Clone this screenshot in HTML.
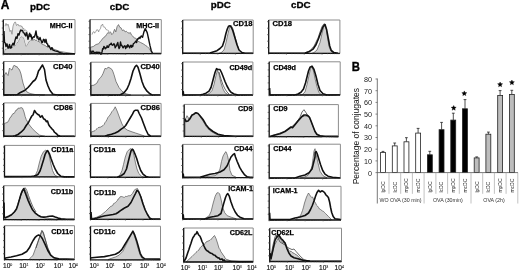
<!DOCTYPE html>
<html><head><meta charset="utf-8"><style>
html,body{margin:0;padding:0;background:#fff;width:520px;height:272px;overflow:hidden}
svg{display:block;will-change:transform}
text{font-family:"Liberation Sans",sans-serif;fill:#111}
.lb{font-size:7.2px;font-weight:bold;fill:#000;stroke:#000;stroke-width:0.25px}
.lr{font-size:7.3px;fill:#000;stroke:#000;stroke-width:0.3px}
.hd{font-size:9.8px;font-weight:bold;fill:#000;stroke:#000;stroke-width:0.3px}
.pa{font-size:12px;font-weight:bold;fill:#000;stroke:#000;stroke-width:0.35px}
.ax{font-size:6.6px;fill:#111;stroke:#111;stroke-width:0.15px}
.sup{font-size:3.6px;stroke-width:0.05px}
.yt{font-size:7.2px;fill:#222}
.cat{font-size:5px;fill:#222}
.grp{font-size:5.3px;fill:#333}
.yl{font-size:8.5px;fill:#111}
.star{font-size:9px;font-weight:bold}
</style></head><body>
<svg width="520" height="272" viewBox="0 0 520 272">
<text x="0.8" y="9.4" class="pa">A</text>
<text x="30" y="9.5" class="hd">pDC</text>
<text x="109.8" y="10" class="hd">cDC</text>
<text x="210.8" y="7.9" class="hd">pDC</text>
<text x="291" y="8.1" class="hd">cDC</text>
<text transform="translate(351.8,70.6) scale(0.9,1)" class="pa" style="font-size:12.6px">B</text>
<polygon points="4.0,54.0 4.0,53.8 5.0,49.0 8.0,48.5 11.0,47.5 11.8,47.7 12.6,47.4 13.4,46.6 14.2,45.9 15.0,46.0 16.0,43.5 17.0,42.5 18.0,41.7 19.5,38.5 21.0,36.5 22.5,36.8 24.0,38.0 25.0,42.0 26.2,46.2 27.5,44.0 28.5,41.7 29.6,41.2 30.7,40.2 31.9,40.1 33.0,40.0 34.5,39.5 35.3,40.3 36.2,40.0 37.0,40.6 38.0,41.6 39.0,41.4 40.0,42.3 41.0,43.5 42.0,43.8 43.0,44.7 44.0,44.8 45.0,45.5 46.0,46.1 47.0,46.8 48.0,47.0 48.8,46.8 49.6,47.7 50.4,48.4 51.2,47.8 52.0,48.5 56.0,50.0 60.0,51.5 65.0,52.3 70.0,53.0 74.0,53.6 74.0,54.0" fill="#d1d1d1" stroke="#555" stroke-width="0.7"/>
<polygon points="5.0,26.2 6.0,23.4 7.0,25.5 8.0,24.1 9.0,27.5 10.0,31.6 11.0,30.2 12.0,34.3 13.0,26.2 14.0,23.4 15.5,22.1 16.5,25.5 18.0,24.1 19.0,26.2 21.0,25.5 23.0,28.9 25.0,30.2 27.0,31.6 29.0,35.7 31.0,37.0 30.7,40.2 28.5,41.7 27.5,44.0 26.2,46.2 25.0,42.0 24.0,38.0 22.5,36.8 21.0,36.5 19.5,38.5 18.0,41.7 17.0,42.5 15.0,46.0 11.0,47.5 8.0,48.5 5.0,49.0 4.0,53.8" fill="#e6e6e6" stroke="none"/>
<polyline points="5.0,26.2 6.0,23.4 7.0,25.5 8.0,24.1 9.0,27.5 10.0,31.6 11.0,30.2 12.0,34.3 13.0,26.2 14.0,23.4 14.8,22.1 15.5,22.1 16.5,25.5 17.2,24.9 18.0,24.1 19.0,26.2 19.7,25.7 20.3,26.0 21.0,25.5 21.7,26.9 22.3,26.7 23.0,28.9 23.7,28.2 24.3,30.6 25.0,30.2 25.7,30.1 26.3,30.5 27.0,31.6 27.7,34.2 28.3,34.3 29.0,35.7 29.7,36.9 30.3,36.5 31.0,37.0" fill="none" stroke="#8a8a8a" stroke-width="0.8"/>
<polyline points="4.0,31.0 4.5,42.5 5.2,42.9 6.0,46.6 7.0,43.8 8.0,48.0 8.8,47.8 9.5,44.5 10.5,48.0 11.2,47.8 12.0,45.2 13.0,43.2 14.0,45.2 15.0,40.4 16.0,37.0 17.0,38.4 18.0,33.6 19.0,35.0 20.0,31.6 20.7,30.1 21.3,30.7 22.0,30.3 22.7,30.9 23.3,32.7 24.0,32.9 25.0,34.8 25.7,35.9 26.3,32.6 27.0,34.2 28.0,39.3 29.0,35.4 29.7,33.1 30.3,36.5 31.0,34.8 32.0,39.3 32.8,37.7 33.5,36.7 34.2,37.2 35.0,35.4 36.0,30.9 37.0,38.0 37.7,36.5 38.3,39.1 39.0,40.0 40.0,37.4 41.0,40.6 41.8,42.5 42.5,42.5 43.5,39.3 44.2,39.7 45.0,42.5 46.0,39.3 46.8,43.5 47.5,43.8 48.2,46.5 49.0,45.7 50.0,47.7 51.0,49.6 51.7,47.7 52.3,47.9 53.0,50.2 55.0,50.9 58.0,51.5 60.0,52.8 63.0,53.5 75.0,53.6" fill="none" stroke="#111" stroke-width="1.4" stroke-linejoin="round"/>
<path d="M3.3,19.6H75.0V54.0" fill="none" stroke="#8c8c8c" stroke-width="1"/>
<path d="M3.3,19.6V54.0H75.0" fill="none" stroke="#111" stroke-width="1.3"/>
<line x1="1.8" y1="21.3" x2="3.3" y2="21.3" stroke="#444" stroke-width="0.8"/>
<line x1="1.8" y1="28.0" x2="3.3" y2="28.0" stroke="#444" stroke-width="0.8"/>
<line x1="1.8" y1="34.7" x2="3.3" y2="34.7" stroke="#444" stroke-width="0.8"/>
<line x1="1.8" y1="41.4" x2="3.3" y2="41.4" stroke="#444" stroke-width="0.8"/>
<line x1="1.8" y1="48.2" x2="3.3" y2="48.2" stroke="#444" stroke-width="0.8"/>
<line x1="3.3" y1="54.0" x2="3.3" y2="55.4" stroke="#555" stroke-width="0.6"/>
<line x1="8.7" y1="54.0" x2="8.7" y2="54.8" stroke="#555" stroke-width="0.6"/>
<line x1="11.9" y1="54.0" x2="11.9" y2="54.8" stroke="#555" stroke-width="0.6"/>
<line x1="14.1" y1="54.0" x2="14.1" y2="54.8" stroke="#555" stroke-width="0.6"/>
<line x1="15.8" y1="54.0" x2="15.8" y2="54.8" stroke="#555" stroke-width="0.6"/>
<line x1="17.2" y1="54.0" x2="17.2" y2="54.8" stroke="#555" stroke-width="0.6"/>
<line x1="18.4" y1="54.0" x2="18.4" y2="54.8" stroke="#555" stroke-width="0.6"/>
<line x1="19.5" y1="54.0" x2="19.5" y2="54.8" stroke="#555" stroke-width="0.6"/>
<line x1="20.4" y1="54.0" x2="20.4" y2="54.8" stroke="#555" stroke-width="0.6"/>
<line x1="21.2" y1="54.0" x2="21.2" y2="55.4" stroke="#555" stroke-width="0.6"/>
<line x1="26.6" y1="54.0" x2="26.6" y2="54.8" stroke="#555" stroke-width="0.6"/>
<line x1="29.8" y1="54.0" x2="29.8" y2="54.8" stroke="#555" stroke-width="0.6"/>
<line x1="32.0" y1="54.0" x2="32.0" y2="54.8" stroke="#555" stroke-width="0.6"/>
<line x1="33.8" y1="54.0" x2="33.8" y2="54.8" stroke="#555" stroke-width="0.6"/>
<line x1="35.2" y1="54.0" x2="35.2" y2="54.8" stroke="#555" stroke-width="0.6"/>
<line x1="36.4" y1="54.0" x2="36.4" y2="54.8" stroke="#555" stroke-width="0.6"/>
<line x1="37.4" y1="54.0" x2="37.4" y2="54.8" stroke="#555" stroke-width="0.6"/>
<line x1="38.3" y1="54.0" x2="38.3" y2="54.8" stroke="#555" stroke-width="0.6"/>
<line x1="39.1" y1="54.0" x2="39.1" y2="55.4" stroke="#555" stroke-width="0.6"/>
<line x1="44.5" y1="54.0" x2="44.5" y2="54.8" stroke="#555" stroke-width="0.6"/>
<line x1="47.7" y1="54.0" x2="47.7" y2="54.8" stroke="#555" stroke-width="0.6"/>
<line x1="49.9" y1="54.0" x2="49.9" y2="54.8" stroke="#555" stroke-width="0.6"/>
<line x1="51.7" y1="54.0" x2="51.7" y2="54.8" stroke="#555" stroke-width="0.6"/>
<line x1="53.1" y1="54.0" x2="53.1" y2="54.8" stroke="#555" stroke-width="0.6"/>
<line x1="54.3" y1="54.0" x2="54.3" y2="54.8" stroke="#555" stroke-width="0.6"/>
<line x1="55.3" y1="54.0" x2="55.3" y2="54.8" stroke="#555" stroke-width="0.6"/>
<line x1="56.3" y1="54.0" x2="56.3" y2="54.8" stroke="#555" stroke-width="0.6"/>
<line x1="57.1" y1="54.0" x2="57.1" y2="55.4" stroke="#555" stroke-width="0.6"/>
<line x1="62.5" y1="54.0" x2="62.5" y2="54.8" stroke="#555" stroke-width="0.6"/>
<line x1="65.6" y1="54.0" x2="65.6" y2="54.8" stroke="#555" stroke-width="0.6"/>
<line x1="67.9" y1="54.0" x2="67.9" y2="54.8" stroke="#555" stroke-width="0.6"/>
<line x1="69.6" y1="54.0" x2="69.6" y2="54.8" stroke="#555" stroke-width="0.6"/>
<line x1="71.0" y1="54.0" x2="71.0" y2="54.8" stroke="#555" stroke-width="0.6"/>
<line x1="72.2" y1="54.0" x2="72.2" y2="54.8" stroke="#555" stroke-width="0.6"/>
<line x1="73.3" y1="54.0" x2="73.3" y2="54.8" stroke="#555" stroke-width="0.6"/>
<line x1="74.2" y1="54.0" x2="74.2" y2="54.8" stroke="#555" stroke-width="0.6"/>
<text x="72.5" y="27.6" text-anchor="end" class="lb">MHC-II</text>
<polygon points="90.6,53.6 90.6,53.5 90.6,47.2 93.3,46.5 96.0,44.5 98.6,43.8 100.6,41.2 101.6,40.1 102.6,38.5 103.6,38.0 104.6,36.6 105.5,36.2 106.5,34.6 107.9,32.6 109.2,33.2 110.5,31.9 111.8,34.6 113.2,33.2 114.5,29.3 115.8,31.9 117.1,26.6 118.5,24.6 119.8,27.3 121.1,27.9 122.4,30.6 123.8,29.9 125.1,31.9 126.4,31.3 127.7,32.6 129.1,33.2 130.4,32.6 131.5,35.1 132.6,35.9 133.5,37.0 134.4,38.1 135.3,37.9 138.0,41.2 140.6,42.5 143.2,43.8 145.2,45.2 147.2,46.5 149.2,48.5 151.2,51.8 152.5,53.4 152.5,53.6" fill="#d1d1d1" stroke="#555" stroke-width="0.7"/>
<polyline points="92.0,34.6 92.7,32.6 93.3,31.9 93.9,31.6 94.6,33.2 95.3,32.0 96.0,31.3 96.7,29.8 97.3,29.9 97.9,29.9 98.6,31.9 99.2,30.4 99.9,29.3 100.6,28.3 101.2,25.3 101.9,25.4 102.6,24.0 103.2,26.3 103.9,27.3 104.6,26.9 105.2,27.9 105.8,29.0 106.5,29.9 107.2,29.7 107.9,30.6 108.6,30.8 109.2,32.6" fill="none" stroke="#8a8a8a" stroke-width="0.8"/>
<polyline points="90.6,50.5 91.5,53.0 93.0,51.0 94.5,53.0 96.0,52.3 100.0,52.5 100.7,54.2 101.3,54.0 102.0,52.0 102.6,48.8 103.2,49.1 103.9,46.5 104.6,47.2 105.2,48.8 105.9,47.8 106.6,47.7 107.2,45.8 107.8,47.2 108.5,47.2 109.2,45.1 109.9,44.5 110.6,44.3 111.2,43.2 111.8,44.6 112.5,45.2 113.2,44.8 113.8,43.8 114.5,44.4 115.2,47.8 115.8,46.5 116.5,45.8 117.2,43.7 117.8,42.5 118.4,46.4 119.1,48.5 119.8,47.2 120.5,41.9 121.2,45.3 121.8,45.2 122.4,46.7 123.1,47.8 123.8,46.6 124.4,45.8 125.1,46.2 125.7,48.5 126.4,46.0 127.1,47.2 127.8,44.6 128.4,45.8 129.1,46.7 129.7,47.8 130.3,45.8 131.0,45.2 131.6,47.2 132.2,45.6 132.7,46.5 133.3,43.8 134.0,43.3 134.6,42.8 135.3,41.9 135.9,41.1 136.6,42.5 137.3,38.9 138.0,39.2 138.6,38.3 139.3,37.3 139.9,38.5 140.6,37.2 141.3,35.9 142.6,37.2 143.9,31.9 145.2,28.6 147.2,32.6 148.5,38.5 149.9,45.2 151.2,50.5 152.5,53.3 161.0,53.4" fill="none" stroke="#111" stroke-width="1.4" stroke-linejoin="round"/>
<path d="M90.0,19.6H161.3V53.6" fill="none" stroke="#8c8c8c" stroke-width="1"/>
<path d="M90.0,19.6V53.6H161.3" fill="none" stroke="#111" stroke-width="1.3"/>
<line x1="88.5" y1="21.3" x2="90.0" y2="21.3" stroke="#444" stroke-width="0.8"/>
<line x1="88.5" y1="27.9" x2="90.0" y2="27.9" stroke="#444" stroke-width="0.8"/>
<line x1="88.5" y1="34.6" x2="90.0" y2="34.6" stroke="#444" stroke-width="0.8"/>
<line x1="88.5" y1="41.2" x2="90.0" y2="41.2" stroke="#444" stroke-width="0.8"/>
<line x1="88.5" y1="47.8" x2="90.0" y2="47.8" stroke="#444" stroke-width="0.8"/>
<line x1="90.0" y1="53.6" x2="90.0" y2="55.0" stroke="#555" stroke-width="0.6"/>
<line x1="95.4" y1="53.6" x2="95.4" y2="54.4" stroke="#555" stroke-width="0.6"/>
<line x1="98.5" y1="53.6" x2="98.5" y2="54.4" stroke="#555" stroke-width="0.6"/>
<line x1="100.7" y1="53.6" x2="100.7" y2="54.4" stroke="#555" stroke-width="0.6"/>
<line x1="102.5" y1="53.6" x2="102.5" y2="54.4" stroke="#555" stroke-width="0.6"/>
<line x1="103.9" y1="53.6" x2="103.9" y2="54.4" stroke="#555" stroke-width="0.6"/>
<line x1="105.1" y1="53.6" x2="105.1" y2="54.4" stroke="#555" stroke-width="0.6"/>
<line x1="106.1" y1="53.6" x2="106.1" y2="54.4" stroke="#555" stroke-width="0.6"/>
<line x1="107.0" y1="53.6" x2="107.0" y2="54.4" stroke="#555" stroke-width="0.6"/>
<line x1="107.8" y1="53.6" x2="107.8" y2="55.0" stroke="#555" stroke-width="0.6"/>
<line x1="113.2" y1="53.6" x2="113.2" y2="54.4" stroke="#555" stroke-width="0.6"/>
<line x1="116.3" y1="53.6" x2="116.3" y2="54.4" stroke="#555" stroke-width="0.6"/>
<line x1="118.6" y1="53.6" x2="118.6" y2="54.4" stroke="#555" stroke-width="0.6"/>
<line x1="120.3" y1="53.6" x2="120.3" y2="54.4" stroke="#555" stroke-width="0.6"/>
<line x1="121.7" y1="53.6" x2="121.7" y2="54.4" stroke="#555" stroke-width="0.6"/>
<line x1="122.9" y1="53.6" x2="122.9" y2="54.4" stroke="#555" stroke-width="0.6"/>
<line x1="123.9" y1="53.6" x2="123.9" y2="54.4" stroke="#555" stroke-width="0.6"/>
<line x1="124.8" y1="53.6" x2="124.8" y2="54.4" stroke="#555" stroke-width="0.6"/>
<line x1="125.7" y1="53.6" x2="125.7" y2="55.0" stroke="#555" stroke-width="0.6"/>
<line x1="131.0" y1="53.6" x2="131.0" y2="54.4" stroke="#555" stroke-width="0.6"/>
<line x1="134.2" y1="53.6" x2="134.2" y2="54.4" stroke="#555" stroke-width="0.6"/>
<line x1="136.4" y1="53.6" x2="136.4" y2="54.4" stroke="#555" stroke-width="0.6"/>
<line x1="138.1" y1="53.6" x2="138.1" y2="54.4" stroke="#555" stroke-width="0.6"/>
<line x1="139.5" y1="53.6" x2="139.5" y2="54.4" stroke="#555" stroke-width="0.6"/>
<line x1="140.7" y1="53.6" x2="140.7" y2="54.4" stroke="#555" stroke-width="0.6"/>
<line x1="141.7" y1="53.6" x2="141.7" y2="54.4" stroke="#555" stroke-width="0.6"/>
<line x1="142.7" y1="53.6" x2="142.7" y2="54.4" stroke="#555" stroke-width="0.6"/>
<line x1="143.5" y1="53.6" x2="143.5" y2="55.0" stroke="#555" stroke-width="0.6"/>
<line x1="148.8" y1="53.6" x2="148.8" y2="54.4" stroke="#555" stroke-width="0.6"/>
<line x1="152.0" y1="53.6" x2="152.0" y2="54.4" stroke="#555" stroke-width="0.6"/>
<line x1="154.2" y1="53.6" x2="154.2" y2="54.4" stroke="#555" stroke-width="0.6"/>
<line x1="155.9" y1="53.6" x2="155.9" y2="54.4" stroke="#555" stroke-width="0.6"/>
<line x1="157.3" y1="53.6" x2="157.3" y2="54.4" stroke="#555" stroke-width="0.6"/>
<line x1="158.5" y1="53.6" x2="158.5" y2="54.4" stroke="#555" stroke-width="0.6"/>
<line x1="159.6" y1="53.6" x2="159.6" y2="54.4" stroke="#555" stroke-width="0.6"/>
<line x1="160.5" y1="53.6" x2="160.5" y2="54.4" stroke="#555" stroke-width="0.6"/>
<text x="159.1" y="27.5" text-anchor="end" class="lb">MHC-II</text>
<polygon points="4.0,95.0 4.0,95.0 4.0,75.5 5.0,74.6 6.0,72.5 7.0,74.3 8.0,75.5 9.5,68.0 10.8,69.4 12.0,70.0 13.5,66.0 14.5,65.0 16.0,67.0 17.0,66.5 18.0,68.4 19.0,69.0 20.0,71.1 21.0,74.0 22.0,78.7 23.0,83.0 25.0,89.0 27.0,92.0 30.0,93.5 35.0,94.5 45.0,95.0 45.0,95.0" fill="#d1d1d1" stroke="#555" stroke-width="0.7"/>
<polyline points="4.0,95.0 17.0,94.8 20.0,92.7 22.5,91.5 25.0,90.2 28.0,87.5 30.0,85.2 33.0,81.5 35.0,80.0 36.0,78.5 37.0,76.0 38.5,71.0 40.0,69.0 41.0,67.2 42.5,65.0 44.5,69.5 46.0,80.0 48.0,86.0 50.0,90.5 53.0,94.2 57.0,95.0 74.0,95.0" fill="none" stroke="#111" stroke-width="1.6" stroke-linejoin="round"/>
<path d="M3.7,61.5H75.3V95.0" fill="none" stroke="#8c8c8c" stroke-width="1"/>
<path d="M3.7,61.5V95.0H75.3" fill="none" stroke="#111" stroke-width="1.3"/>
<line x1="2.2" y1="63.2" x2="3.7" y2="63.2" stroke="#444" stroke-width="0.8"/>
<line x1="2.2" y1="69.7" x2="3.7" y2="69.7" stroke="#444" stroke-width="0.8"/>
<line x1="2.2" y1="76.2" x2="3.7" y2="76.2" stroke="#444" stroke-width="0.8"/>
<line x1="2.2" y1="82.8" x2="3.7" y2="82.8" stroke="#444" stroke-width="0.8"/>
<line x1="2.2" y1="89.3" x2="3.7" y2="89.3" stroke="#444" stroke-width="0.8"/>
<line x1="3.7" y1="95.0" x2="3.7" y2="96.4" stroke="#555" stroke-width="0.6"/>
<line x1="9.1" y1="95.0" x2="9.1" y2="95.8" stroke="#555" stroke-width="0.6"/>
<line x1="12.2" y1="95.0" x2="12.2" y2="95.8" stroke="#555" stroke-width="0.6"/>
<line x1="14.5" y1="95.0" x2="14.5" y2="95.8" stroke="#555" stroke-width="0.6"/>
<line x1="16.2" y1="95.0" x2="16.2" y2="95.8" stroke="#555" stroke-width="0.6"/>
<line x1="17.6" y1="95.0" x2="17.6" y2="95.8" stroke="#555" stroke-width="0.6"/>
<line x1="18.8" y1="95.0" x2="18.8" y2="95.8" stroke="#555" stroke-width="0.6"/>
<line x1="19.9" y1="95.0" x2="19.9" y2="95.8" stroke="#555" stroke-width="0.6"/>
<line x1="20.8" y1="95.0" x2="20.8" y2="95.8" stroke="#555" stroke-width="0.6"/>
<line x1="21.6" y1="95.0" x2="21.6" y2="96.4" stroke="#555" stroke-width="0.6"/>
<line x1="27.0" y1="95.0" x2="27.0" y2="95.8" stroke="#555" stroke-width="0.6"/>
<line x1="30.1" y1="95.0" x2="30.1" y2="95.8" stroke="#555" stroke-width="0.6"/>
<line x1="32.4" y1="95.0" x2="32.4" y2="95.8" stroke="#555" stroke-width="0.6"/>
<line x1="34.1" y1="95.0" x2="34.1" y2="95.8" stroke="#555" stroke-width="0.6"/>
<line x1="35.5" y1="95.0" x2="35.5" y2="95.8" stroke="#555" stroke-width="0.6"/>
<line x1="36.7" y1="95.0" x2="36.7" y2="95.8" stroke="#555" stroke-width="0.6"/>
<line x1="37.8" y1="95.0" x2="37.8" y2="95.8" stroke="#555" stroke-width="0.6"/>
<line x1="38.7" y1="95.0" x2="38.7" y2="95.8" stroke="#555" stroke-width="0.6"/>
<line x1="39.5" y1="95.0" x2="39.5" y2="96.4" stroke="#555" stroke-width="0.6"/>
<line x1="44.9" y1="95.0" x2="44.9" y2="95.8" stroke="#555" stroke-width="0.6"/>
<line x1="48.0" y1="95.0" x2="48.0" y2="95.8" stroke="#555" stroke-width="0.6"/>
<line x1="50.3" y1="95.0" x2="50.3" y2="95.8" stroke="#555" stroke-width="0.6"/>
<line x1="52.0" y1="95.0" x2="52.0" y2="95.8" stroke="#555" stroke-width="0.6"/>
<line x1="53.4" y1="95.0" x2="53.4" y2="95.8" stroke="#555" stroke-width="0.6"/>
<line x1="54.6" y1="95.0" x2="54.6" y2="95.8" stroke="#555" stroke-width="0.6"/>
<line x1="55.7" y1="95.0" x2="55.7" y2="95.8" stroke="#555" stroke-width="0.6"/>
<line x1="56.6" y1="95.0" x2="56.6" y2="95.8" stroke="#555" stroke-width="0.6"/>
<line x1="57.4" y1="95.0" x2="57.4" y2="96.4" stroke="#555" stroke-width="0.6"/>
<line x1="62.8" y1="95.0" x2="62.8" y2="95.8" stroke="#555" stroke-width="0.6"/>
<line x1="65.9" y1="95.0" x2="65.9" y2="95.8" stroke="#555" stroke-width="0.6"/>
<line x1="68.2" y1="95.0" x2="68.2" y2="95.8" stroke="#555" stroke-width="0.6"/>
<line x1="69.9" y1="95.0" x2="69.9" y2="95.8" stroke="#555" stroke-width="0.6"/>
<line x1="71.3" y1="95.0" x2="71.3" y2="95.8" stroke="#555" stroke-width="0.6"/>
<line x1="72.5" y1="95.0" x2="72.5" y2="95.8" stroke="#555" stroke-width="0.6"/>
<line x1="73.6" y1="95.0" x2="73.6" y2="95.8" stroke="#555" stroke-width="0.6"/>
<line x1="74.5" y1="95.0" x2="74.5" y2="95.8" stroke="#555" stroke-width="0.6"/>
<text x="72.5" y="68.5" text-anchor="end" class="lb" style="font-size:7.6px">CD40</text>
<polygon points="91.0,95.2 91.0,95.0 91.0,86.0 92.0,85.2 93.0,85.5 94.0,85.0 95.0,84.5 96.0,83.7 97.0,83.0 98.2,80.4 99.5,78.5 100.8,77.4 102.0,75.5 103.0,73.6 104.0,71.0 105.0,68.3 106.5,69.0 108.0,67.2 109.0,67.6 110.0,68.0 111.0,68.8 112.0,69.5 113.0,71.8 114.0,74.7 116.0,81.5 119.0,87.5 122.0,91.2 126.0,93.8 131.0,95.0 131.0,95.2" fill="#d1d1d1" stroke="#555" stroke-width="0.7"/>
<polyline points="91.0,95.0 120.0,95.0 124.0,92.7 127.0,89.0 129.0,84.5 131.0,78.5 133.0,71.0 135.0,66.8 136.5,65.3 138.0,67.2 140.0,74.0 142.0,81.5 144.0,86.7 147.0,91.2 150.0,93.8 152.0,95.0 160.5,95.0" fill="none" stroke="#111" stroke-width="1.6" stroke-linejoin="round"/>
<path d="M90.8,62.2H160.5V95.2" fill="none" stroke="#8c8c8c" stroke-width="1"/>
<path d="M90.8,62.2V95.2H160.5" fill="none" stroke="#111" stroke-width="1.3"/>
<line x1="89.3" y1="63.9" x2="90.8" y2="63.9" stroke="#444" stroke-width="0.8"/>
<line x1="89.3" y1="70.3" x2="90.8" y2="70.3" stroke="#444" stroke-width="0.8"/>
<line x1="89.3" y1="76.7" x2="90.8" y2="76.7" stroke="#444" stroke-width="0.8"/>
<line x1="89.3" y1="83.2" x2="90.8" y2="83.2" stroke="#444" stroke-width="0.8"/>
<line x1="89.3" y1="89.6" x2="90.8" y2="89.6" stroke="#444" stroke-width="0.8"/>
<line x1="90.8" y1="95.2" x2="90.8" y2="96.6" stroke="#555" stroke-width="0.6"/>
<line x1="96.0" y1="95.2" x2="96.0" y2="96.0" stroke="#555" stroke-width="0.6"/>
<line x1="99.1" y1="95.2" x2="99.1" y2="96.0" stroke="#555" stroke-width="0.6"/>
<line x1="101.3" y1="95.2" x2="101.3" y2="96.0" stroke="#555" stroke-width="0.6"/>
<line x1="103.0" y1="95.2" x2="103.0" y2="96.0" stroke="#555" stroke-width="0.6"/>
<line x1="104.4" y1="95.2" x2="104.4" y2="96.0" stroke="#555" stroke-width="0.6"/>
<line x1="105.5" y1="95.2" x2="105.5" y2="96.0" stroke="#555" stroke-width="0.6"/>
<line x1="106.5" y1="95.2" x2="106.5" y2="96.0" stroke="#555" stroke-width="0.6"/>
<line x1="107.4" y1="95.2" x2="107.4" y2="96.0" stroke="#555" stroke-width="0.6"/>
<line x1="108.2" y1="95.2" x2="108.2" y2="96.6" stroke="#555" stroke-width="0.6"/>
<line x1="113.5" y1="95.2" x2="113.5" y2="96.0" stroke="#555" stroke-width="0.6"/>
<line x1="116.5" y1="95.2" x2="116.5" y2="96.0" stroke="#555" stroke-width="0.6"/>
<line x1="118.7" y1="95.2" x2="118.7" y2="96.0" stroke="#555" stroke-width="0.6"/>
<line x1="120.4" y1="95.2" x2="120.4" y2="96.0" stroke="#555" stroke-width="0.6"/>
<line x1="121.8" y1="95.2" x2="121.8" y2="96.0" stroke="#555" stroke-width="0.6"/>
<line x1="123.0" y1="95.2" x2="123.0" y2="96.0" stroke="#555" stroke-width="0.6"/>
<line x1="124.0" y1="95.2" x2="124.0" y2="96.0" stroke="#555" stroke-width="0.6"/>
<line x1="124.9" y1="95.2" x2="124.9" y2="96.0" stroke="#555" stroke-width="0.6"/>
<line x1="125.7" y1="95.2" x2="125.7" y2="96.6" stroke="#555" stroke-width="0.6"/>
<line x1="130.9" y1="95.2" x2="130.9" y2="96.0" stroke="#555" stroke-width="0.6"/>
<line x1="134.0" y1="95.2" x2="134.0" y2="96.0" stroke="#555" stroke-width="0.6"/>
<line x1="136.1" y1="95.2" x2="136.1" y2="96.0" stroke="#555" stroke-width="0.6"/>
<line x1="137.8" y1="95.2" x2="137.8" y2="96.0" stroke="#555" stroke-width="0.6"/>
<line x1="139.2" y1="95.2" x2="139.2" y2="96.0" stroke="#555" stroke-width="0.6"/>
<line x1="140.4" y1="95.2" x2="140.4" y2="96.0" stroke="#555" stroke-width="0.6"/>
<line x1="141.4" y1="95.2" x2="141.4" y2="96.0" stroke="#555" stroke-width="0.6"/>
<line x1="142.3" y1="95.2" x2="142.3" y2="96.0" stroke="#555" stroke-width="0.6"/>
<line x1="143.1" y1="95.2" x2="143.1" y2="96.6" stroke="#555" stroke-width="0.6"/>
<line x1="148.3" y1="95.2" x2="148.3" y2="96.0" stroke="#555" stroke-width="0.6"/>
<line x1="151.4" y1="95.2" x2="151.4" y2="96.0" stroke="#555" stroke-width="0.6"/>
<line x1="153.6" y1="95.2" x2="153.6" y2="96.0" stroke="#555" stroke-width="0.6"/>
<line x1="155.3" y1="95.2" x2="155.3" y2="96.0" stroke="#555" stroke-width="0.6"/>
<line x1="156.6" y1="95.2" x2="156.6" y2="96.0" stroke="#555" stroke-width="0.6"/>
<line x1="157.8" y1="95.2" x2="157.8" y2="96.0" stroke="#555" stroke-width="0.6"/>
<line x1="158.8" y1="95.2" x2="158.8" y2="96.0" stroke="#555" stroke-width="0.6"/>
<line x1="159.7" y1="95.2" x2="159.7" y2="96.0" stroke="#555" stroke-width="0.6"/>
<text x="159.8" y="68.5" text-anchor="end" class="lb" style="font-size:7.6px">CD40</text>
<polygon points="4.0,136.4 4.0,136.4 4.0,124.0 5.2,123.2 7.0,122.5 8.0,121.9 9.0,120.0 10.0,117.6 11.0,117.0 12.0,115.0 13.0,113.5 14.0,113.7 15.0,112.0 16.0,110.1 17.0,110.0 18.0,108.2 19.0,108.2 20.0,108.2 21.0,107.5 22.5,108.2 24.0,112.0 25.1,116.4 26.2,119.5 29.2,124.7 32.2,128.5 36.0,132.2 39.7,135.2 45.0,136.2 45.0,136.4" fill="#d1d1d1" stroke="#555" stroke-width="0.7"/>
<polyline points="4.0,136.2 13.0,136.1 15.0,135.8 18.0,134.5 21.0,132.2 24.0,129.2 26.2,125.5 28.5,122.5 30.7,118.0 31.9,115.9 33.0,115.0 34.5,110.5 36.0,112.7 37.5,114.2 39.0,115.0 40.5,117.2 42.0,115.7 43.5,118.7 45.0,119.5 46.5,121.7 47.5,121.0 48.7,124.7 49.9,126.5 51.0,127.7 52.1,129.1 53.2,130.0 54.4,132.1 55.5,133.0 56.6,133.8 57.7,135.2 60.0,136.0 74.5,136.2" fill="none" stroke="#111" stroke-width="1.6" stroke-linejoin="round"/>
<path d="M3.7,102.9H75.3V136.4" fill="none" stroke="#8c8c8c" stroke-width="1"/>
<path d="M3.7,102.9V136.4H75.3" fill="none" stroke="#111" stroke-width="1.3"/>
<line x1="2.2" y1="104.6" x2="3.7" y2="104.6" stroke="#444" stroke-width="0.8"/>
<line x1="2.2" y1="111.1" x2="3.7" y2="111.1" stroke="#444" stroke-width="0.8"/>
<line x1="2.2" y1="117.6" x2="3.7" y2="117.6" stroke="#444" stroke-width="0.8"/>
<line x1="2.2" y1="124.2" x2="3.7" y2="124.2" stroke="#444" stroke-width="0.8"/>
<line x1="2.2" y1="130.7" x2="3.7" y2="130.7" stroke="#444" stroke-width="0.8"/>
<line x1="3.7" y1="136.4" x2="3.7" y2="137.8" stroke="#555" stroke-width="0.6"/>
<line x1="9.1" y1="136.4" x2="9.1" y2="137.2" stroke="#555" stroke-width="0.6"/>
<line x1="12.2" y1="136.4" x2="12.2" y2="137.2" stroke="#555" stroke-width="0.6"/>
<line x1="14.5" y1="136.4" x2="14.5" y2="137.2" stroke="#555" stroke-width="0.6"/>
<line x1="16.2" y1="136.4" x2="16.2" y2="137.2" stroke="#555" stroke-width="0.6"/>
<line x1="17.6" y1="136.4" x2="17.6" y2="137.2" stroke="#555" stroke-width="0.6"/>
<line x1="18.8" y1="136.4" x2="18.8" y2="137.2" stroke="#555" stroke-width="0.6"/>
<line x1="19.9" y1="136.4" x2="19.9" y2="137.2" stroke="#555" stroke-width="0.6"/>
<line x1="20.8" y1="136.4" x2="20.8" y2="137.2" stroke="#555" stroke-width="0.6"/>
<line x1="21.6" y1="136.4" x2="21.6" y2="137.8" stroke="#555" stroke-width="0.6"/>
<line x1="27.0" y1="136.4" x2="27.0" y2="137.2" stroke="#555" stroke-width="0.6"/>
<line x1="30.1" y1="136.4" x2="30.1" y2="137.2" stroke="#555" stroke-width="0.6"/>
<line x1="32.4" y1="136.4" x2="32.4" y2="137.2" stroke="#555" stroke-width="0.6"/>
<line x1="34.1" y1="136.4" x2="34.1" y2="137.2" stroke="#555" stroke-width="0.6"/>
<line x1="35.5" y1="136.4" x2="35.5" y2="137.2" stroke="#555" stroke-width="0.6"/>
<line x1="36.7" y1="136.4" x2="36.7" y2="137.2" stroke="#555" stroke-width="0.6"/>
<line x1="37.8" y1="136.4" x2="37.8" y2="137.2" stroke="#555" stroke-width="0.6"/>
<line x1="38.7" y1="136.4" x2="38.7" y2="137.2" stroke="#555" stroke-width="0.6"/>
<line x1="39.5" y1="136.4" x2="39.5" y2="137.8" stroke="#555" stroke-width="0.6"/>
<line x1="44.9" y1="136.4" x2="44.9" y2="137.2" stroke="#555" stroke-width="0.6"/>
<line x1="48.0" y1="136.4" x2="48.0" y2="137.2" stroke="#555" stroke-width="0.6"/>
<line x1="50.3" y1="136.4" x2="50.3" y2="137.2" stroke="#555" stroke-width="0.6"/>
<line x1="52.0" y1="136.4" x2="52.0" y2="137.2" stroke="#555" stroke-width="0.6"/>
<line x1="53.4" y1="136.4" x2="53.4" y2="137.2" stroke="#555" stroke-width="0.6"/>
<line x1="54.6" y1="136.4" x2="54.6" y2="137.2" stroke="#555" stroke-width="0.6"/>
<line x1="55.7" y1="136.4" x2="55.7" y2="137.2" stroke="#555" stroke-width="0.6"/>
<line x1="56.6" y1="136.4" x2="56.6" y2="137.2" stroke="#555" stroke-width="0.6"/>
<line x1="57.4" y1="136.4" x2="57.4" y2="137.8" stroke="#555" stroke-width="0.6"/>
<line x1="62.8" y1="136.4" x2="62.8" y2="137.2" stroke="#555" stroke-width="0.6"/>
<line x1="65.9" y1="136.4" x2="65.9" y2="137.2" stroke="#555" stroke-width="0.6"/>
<line x1="68.2" y1="136.4" x2="68.2" y2="137.2" stroke="#555" stroke-width="0.6"/>
<line x1="69.9" y1="136.4" x2="69.9" y2="137.2" stroke="#555" stroke-width="0.6"/>
<line x1="71.3" y1="136.4" x2="71.3" y2="137.2" stroke="#555" stroke-width="0.6"/>
<line x1="72.5" y1="136.4" x2="72.5" y2="137.2" stroke="#555" stroke-width="0.6"/>
<line x1="73.6" y1="136.4" x2="73.6" y2="137.2" stroke="#555" stroke-width="0.6"/>
<line x1="74.5" y1="136.4" x2="74.5" y2="137.2" stroke="#555" stroke-width="0.6"/>
<text x="73" y="109.6" text-anchor="end" class="lb" style="font-size:7.6px">CD86</text>
<polygon points="91.0,136.4 91.0,136.4 91.0,132.2 95.0,130.7 96.0,129.5 97.0,128.7 98.0,127.7 99.0,127.4 100.0,127.2 101.0,127.0 102.0,126.1 103.0,125.7 104.0,124.7 105.0,122.6 106.0,121.4 107.0,119.5 108.0,117.3 109.0,116.2 110.0,115.0 111.0,113.3 112.0,111.5 113.0,110.5 114.1,109.0 115.2,106.8 116.3,109.1 117.5,112.0 119.7,118.0 122.0,124.0 124.2,127.7 127.2,130.0 131.0,131.5 135.5,133.0 140.0,134.5 144.5,136.0 144.5,136.4" fill="#d1d1d1" stroke="#555" stroke-width="0.7"/>
<polyline points="91.0,136.2 105.0,136.1 107.0,135.4 111.5,134.3 115.2,133.0 118.2,131.5 121.2,129.2 123.5,127.7 125.7,125.5 128.0,121.7 130.2,118.0 132.5,114.2 134.0,111.2 135.5,110.2 137.7,110.2 139.2,113.5 141.5,118.0 143.7,124.0 146.0,130.0 148.2,134.5 150.5,136.0 161.0,136.2" fill="none" stroke="#111" stroke-width="1.6" stroke-linejoin="round"/>
<path d="M90.8,103.4H161.1V136.4" fill="none" stroke="#8c8c8c" stroke-width="1"/>
<path d="M90.8,103.4V136.4H161.1" fill="none" stroke="#111" stroke-width="1.3"/>
<line x1="89.3" y1="105.1" x2="90.8" y2="105.1" stroke="#444" stroke-width="0.8"/>
<line x1="89.3" y1="111.5" x2="90.8" y2="111.5" stroke="#444" stroke-width="0.8"/>
<line x1="89.3" y1="117.9" x2="90.8" y2="117.9" stroke="#444" stroke-width="0.8"/>
<line x1="89.3" y1="124.4" x2="90.8" y2="124.4" stroke="#444" stroke-width="0.8"/>
<line x1="89.3" y1="130.8" x2="90.8" y2="130.8" stroke="#444" stroke-width="0.8"/>
<line x1="90.8" y1="136.4" x2="90.8" y2="137.8" stroke="#555" stroke-width="0.6"/>
<line x1="96.1" y1="136.4" x2="96.1" y2="137.2" stroke="#555" stroke-width="0.6"/>
<line x1="99.2" y1="136.4" x2="99.2" y2="137.2" stroke="#555" stroke-width="0.6"/>
<line x1="101.4" y1="136.4" x2="101.4" y2="137.2" stroke="#555" stroke-width="0.6"/>
<line x1="103.1" y1="136.4" x2="103.1" y2="137.2" stroke="#555" stroke-width="0.6"/>
<line x1="104.5" y1="136.4" x2="104.5" y2="137.2" stroke="#555" stroke-width="0.6"/>
<line x1="105.7" y1="136.4" x2="105.7" y2="137.2" stroke="#555" stroke-width="0.6"/>
<line x1="106.7" y1="136.4" x2="106.7" y2="137.2" stroke="#555" stroke-width="0.6"/>
<line x1="107.6" y1="136.4" x2="107.6" y2="137.2" stroke="#555" stroke-width="0.6"/>
<line x1="108.4" y1="136.4" x2="108.4" y2="137.8" stroke="#555" stroke-width="0.6"/>
<line x1="113.7" y1="136.4" x2="113.7" y2="137.2" stroke="#555" stroke-width="0.6"/>
<line x1="116.8" y1="136.4" x2="116.8" y2="137.2" stroke="#555" stroke-width="0.6"/>
<line x1="119.0" y1="136.4" x2="119.0" y2="137.2" stroke="#555" stroke-width="0.6"/>
<line x1="120.7" y1="136.4" x2="120.7" y2="137.2" stroke="#555" stroke-width="0.6"/>
<line x1="122.1" y1="136.4" x2="122.1" y2="137.2" stroke="#555" stroke-width="0.6"/>
<line x1="123.2" y1="136.4" x2="123.2" y2="137.2" stroke="#555" stroke-width="0.6"/>
<line x1="124.2" y1="136.4" x2="124.2" y2="137.2" stroke="#555" stroke-width="0.6"/>
<line x1="125.1" y1="136.4" x2="125.1" y2="137.2" stroke="#555" stroke-width="0.6"/>
<line x1="125.9" y1="136.4" x2="125.9" y2="137.8" stroke="#555" stroke-width="0.6"/>
<line x1="131.2" y1="136.4" x2="131.2" y2="137.2" stroke="#555" stroke-width="0.6"/>
<line x1="134.3" y1="136.4" x2="134.3" y2="137.2" stroke="#555" stroke-width="0.6"/>
<line x1="136.5" y1="136.4" x2="136.5" y2="137.2" stroke="#555" stroke-width="0.6"/>
<line x1="138.2" y1="136.4" x2="138.2" y2="137.2" stroke="#555" stroke-width="0.6"/>
<line x1="139.6" y1="136.4" x2="139.6" y2="137.2" stroke="#555" stroke-width="0.6"/>
<line x1="140.8" y1="136.4" x2="140.8" y2="137.2" stroke="#555" stroke-width="0.6"/>
<line x1="141.8" y1="136.4" x2="141.8" y2="137.2" stroke="#555" stroke-width="0.6"/>
<line x1="142.7" y1="136.4" x2="142.7" y2="137.2" stroke="#555" stroke-width="0.6"/>
<line x1="143.5" y1="136.4" x2="143.5" y2="137.8" stroke="#555" stroke-width="0.6"/>
<line x1="148.8" y1="136.4" x2="148.8" y2="137.2" stroke="#555" stroke-width="0.6"/>
<line x1="151.9" y1="136.4" x2="151.9" y2="137.2" stroke="#555" stroke-width="0.6"/>
<line x1="154.1" y1="136.4" x2="154.1" y2="137.2" stroke="#555" stroke-width="0.6"/>
<line x1="155.8" y1="136.4" x2="155.8" y2="137.2" stroke="#555" stroke-width="0.6"/>
<line x1="157.2" y1="136.4" x2="157.2" y2="137.2" stroke="#555" stroke-width="0.6"/>
<line x1="158.4" y1="136.4" x2="158.4" y2="137.2" stroke="#555" stroke-width="0.6"/>
<line x1="159.4" y1="136.4" x2="159.4" y2="137.2" stroke="#555" stroke-width="0.6"/>
<line x1="160.3" y1="136.4" x2="160.3" y2="137.2" stroke="#555" stroke-width="0.6"/>
<text x="160" y="109.5" text-anchor="end" class="lb" style="font-size:7.6px">CD86</text>
<polygon points="33.0,176.8 33.0,176.8 35.2,175.7 37.5,170.5 39.3,163.0 41.2,156.2 43.5,151.7 45.7,150.2 47.7,151.0 49.2,155.5 50.7,163.0 52.5,170.5 54.7,175.0 57.7,176.6 57.7,176.8" fill="#d1d1d1" stroke="#555" stroke-width="0.7"/>
<polyline points="4.5,176.6 31.0,176.5 34.0,176.0 36.5,175.2 38.2,174.2 40.0,171.0 41.2,167.5 42.4,163.5 43.5,160.0 45.0,154.7 46.5,151.7 47.7,150.7 49.5,154.0 51.0,158.5 53.2,164.5 55.5,169.7 57.7,173.5 60.7,176.2 64.5,176.9 74.5,176.9" fill="none" stroke="#111" stroke-width="1.6" stroke-linejoin="round"/>
<path d="M4.5,145.4H74.5V176.8" fill="none" stroke="#8c8c8c" stroke-width="1"/>
<path d="M4.5,145.4V176.8H74.5" fill="none" stroke="#111" stroke-width="1.3"/>
<line x1="3.0" y1="147.0" x2="4.5" y2="147.0" stroke="#444" stroke-width="0.8"/>
<line x1="3.0" y1="153.1" x2="4.5" y2="153.1" stroke="#444" stroke-width="0.8"/>
<line x1="3.0" y1="159.2" x2="4.5" y2="159.2" stroke="#444" stroke-width="0.8"/>
<line x1="3.0" y1="165.3" x2="4.5" y2="165.3" stroke="#444" stroke-width="0.8"/>
<line x1="3.0" y1="171.5" x2="4.5" y2="171.5" stroke="#444" stroke-width="0.8"/>
<line x1="4.5" y1="176.8" x2="4.5" y2="178.2" stroke="#555" stroke-width="0.6"/>
<line x1="9.8" y1="176.8" x2="9.8" y2="177.6" stroke="#555" stroke-width="0.6"/>
<line x1="12.8" y1="176.8" x2="12.8" y2="177.6" stroke="#555" stroke-width="0.6"/>
<line x1="15.0" y1="176.8" x2="15.0" y2="177.6" stroke="#555" stroke-width="0.6"/>
<line x1="16.7" y1="176.8" x2="16.7" y2="177.6" stroke="#555" stroke-width="0.6"/>
<line x1="18.1" y1="176.8" x2="18.1" y2="177.6" stroke="#555" stroke-width="0.6"/>
<line x1="19.3" y1="176.8" x2="19.3" y2="177.6" stroke="#555" stroke-width="0.6"/>
<line x1="20.3" y1="176.8" x2="20.3" y2="177.6" stroke="#555" stroke-width="0.6"/>
<line x1="21.2" y1="176.8" x2="21.2" y2="177.6" stroke="#555" stroke-width="0.6"/>
<line x1="22.0" y1="176.8" x2="22.0" y2="178.2" stroke="#555" stroke-width="0.6"/>
<line x1="27.3" y1="176.8" x2="27.3" y2="177.6" stroke="#555" stroke-width="0.6"/>
<line x1="30.3" y1="176.8" x2="30.3" y2="177.6" stroke="#555" stroke-width="0.6"/>
<line x1="32.5" y1="176.8" x2="32.5" y2="177.6" stroke="#555" stroke-width="0.6"/>
<line x1="34.2" y1="176.8" x2="34.2" y2="177.6" stroke="#555" stroke-width="0.6"/>
<line x1="35.6" y1="176.8" x2="35.6" y2="177.6" stroke="#555" stroke-width="0.6"/>
<line x1="36.8" y1="176.8" x2="36.8" y2="177.6" stroke="#555" stroke-width="0.6"/>
<line x1="37.8" y1="176.8" x2="37.8" y2="177.6" stroke="#555" stroke-width="0.6"/>
<line x1="38.7" y1="176.8" x2="38.7" y2="177.6" stroke="#555" stroke-width="0.6"/>
<line x1="39.5" y1="176.8" x2="39.5" y2="178.2" stroke="#555" stroke-width="0.6"/>
<line x1="44.8" y1="176.8" x2="44.8" y2="177.6" stroke="#555" stroke-width="0.6"/>
<line x1="47.8" y1="176.8" x2="47.8" y2="177.6" stroke="#555" stroke-width="0.6"/>
<line x1="50.0" y1="176.8" x2="50.0" y2="177.6" stroke="#555" stroke-width="0.6"/>
<line x1="51.7" y1="176.8" x2="51.7" y2="177.6" stroke="#555" stroke-width="0.6"/>
<line x1="53.1" y1="176.8" x2="53.1" y2="177.6" stroke="#555" stroke-width="0.6"/>
<line x1="54.3" y1="176.8" x2="54.3" y2="177.6" stroke="#555" stroke-width="0.6"/>
<line x1="55.3" y1="176.8" x2="55.3" y2="177.6" stroke="#555" stroke-width="0.6"/>
<line x1="56.2" y1="176.8" x2="56.2" y2="177.6" stroke="#555" stroke-width="0.6"/>
<line x1="57.0" y1="176.8" x2="57.0" y2="178.2" stroke="#555" stroke-width="0.6"/>
<line x1="62.3" y1="176.8" x2="62.3" y2="177.6" stroke="#555" stroke-width="0.6"/>
<line x1="65.3" y1="176.8" x2="65.3" y2="177.6" stroke="#555" stroke-width="0.6"/>
<line x1="67.5" y1="176.8" x2="67.5" y2="177.6" stroke="#555" stroke-width="0.6"/>
<line x1="69.2" y1="176.8" x2="69.2" y2="177.6" stroke="#555" stroke-width="0.6"/>
<line x1="70.6" y1="176.8" x2="70.6" y2="177.6" stroke="#555" stroke-width="0.6"/>
<line x1="71.8" y1="176.8" x2="71.8" y2="177.6" stroke="#555" stroke-width="0.6"/>
<line x1="72.8" y1="176.8" x2="72.8" y2="177.6" stroke="#555" stroke-width="0.6"/>
<line x1="73.7" y1="176.8" x2="73.7" y2="177.6" stroke="#555" stroke-width="0.6"/>
<text x="73.2" y="151.8" text-anchor="end" class="lb">CD11a</text>
<polygon points="117.5,177.3 117.5,177.2 119.7,175.7 122.0,170.5 123.5,164.5 125.3,157.0 127.2,151.7 129.5,149.2 131.0,148.7 132.5,150.2 134.0,155.5 135.5,163.0 137.0,169.0 138.8,173.5 141.5,176.2 144.5,177.2 144.5,177.3" fill="#d1d1d1" stroke="#555" stroke-width="0.7"/>
<polyline points="90.5,177.3 115.0,177.3 117.5,177.1 121.2,175.7 124.2,173.5 126.5,169.0 128.3,161.5 129.8,155.5 131.0,151.0 132.2,149.2 133.4,150.2 134.7,153.2 136.7,158.5 138.5,164.5 140.7,170.5 143.0,174.2 146.0,176.5 149.0,177.3 160.2,177.3" fill="none" stroke="#111" stroke-width="1.6" stroke-linejoin="round"/>
<path d="M90.5,144.6H160.2V177.3" fill="none" stroke="#8c8c8c" stroke-width="1"/>
<path d="M90.5,144.6V177.3H160.2" fill="none" stroke="#111" stroke-width="1.3"/>
<line x1="89.0" y1="146.2" x2="90.5" y2="146.2" stroke="#444" stroke-width="0.8"/>
<line x1="89.0" y1="152.6" x2="90.5" y2="152.6" stroke="#444" stroke-width="0.8"/>
<line x1="89.0" y1="159.0" x2="90.5" y2="159.0" stroke="#444" stroke-width="0.8"/>
<line x1="89.0" y1="165.4" x2="90.5" y2="165.4" stroke="#444" stroke-width="0.8"/>
<line x1="89.0" y1="171.7" x2="90.5" y2="171.7" stroke="#444" stroke-width="0.8"/>
<line x1="90.5" y1="177.3" x2="90.5" y2="178.7" stroke="#555" stroke-width="0.6"/>
<line x1="95.7" y1="177.3" x2="95.7" y2="178.1" stroke="#555" stroke-width="0.6"/>
<line x1="98.8" y1="177.3" x2="98.8" y2="178.1" stroke="#555" stroke-width="0.6"/>
<line x1="101.0" y1="177.3" x2="101.0" y2="178.1" stroke="#555" stroke-width="0.6"/>
<line x1="102.7" y1="177.3" x2="102.7" y2="178.1" stroke="#555" stroke-width="0.6"/>
<line x1="104.1" y1="177.3" x2="104.1" y2="178.1" stroke="#555" stroke-width="0.6"/>
<line x1="105.2" y1="177.3" x2="105.2" y2="178.1" stroke="#555" stroke-width="0.6"/>
<line x1="106.2" y1="177.3" x2="106.2" y2="178.1" stroke="#555" stroke-width="0.6"/>
<line x1="107.1" y1="177.3" x2="107.1" y2="178.1" stroke="#555" stroke-width="0.6"/>
<line x1="107.9" y1="177.3" x2="107.9" y2="178.7" stroke="#555" stroke-width="0.6"/>
<line x1="113.2" y1="177.3" x2="113.2" y2="178.1" stroke="#555" stroke-width="0.6"/>
<line x1="116.2" y1="177.3" x2="116.2" y2="178.1" stroke="#555" stroke-width="0.6"/>
<line x1="118.4" y1="177.3" x2="118.4" y2="178.1" stroke="#555" stroke-width="0.6"/>
<line x1="120.1" y1="177.3" x2="120.1" y2="178.1" stroke="#555" stroke-width="0.6"/>
<line x1="121.5" y1="177.3" x2="121.5" y2="178.1" stroke="#555" stroke-width="0.6"/>
<line x1="122.7" y1="177.3" x2="122.7" y2="178.1" stroke="#555" stroke-width="0.6"/>
<line x1="123.7" y1="177.3" x2="123.7" y2="178.1" stroke="#555" stroke-width="0.6"/>
<line x1="124.6" y1="177.3" x2="124.6" y2="178.1" stroke="#555" stroke-width="0.6"/>
<line x1="125.3" y1="177.3" x2="125.3" y2="178.7" stroke="#555" stroke-width="0.6"/>
<line x1="130.6" y1="177.3" x2="130.6" y2="178.1" stroke="#555" stroke-width="0.6"/>
<line x1="133.7" y1="177.3" x2="133.7" y2="178.1" stroke="#555" stroke-width="0.6"/>
<line x1="135.8" y1="177.3" x2="135.8" y2="178.1" stroke="#555" stroke-width="0.6"/>
<line x1="137.5" y1="177.3" x2="137.5" y2="178.1" stroke="#555" stroke-width="0.6"/>
<line x1="138.9" y1="177.3" x2="138.9" y2="178.1" stroke="#555" stroke-width="0.6"/>
<line x1="140.1" y1="177.3" x2="140.1" y2="178.1" stroke="#555" stroke-width="0.6"/>
<line x1="141.1" y1="177.3" x2="141.1" y2="178.1" stroke="#555" stroke-width="0.6"/>
<line x1="142.0" y1="177.3" x2="142.0" y2="178.1" stroke="#555" stroke-width="0.6"/>
<line x1="142.8" y1="177.3" x2="142.8" y2="178.7" stroke="#555" stroke-width="0.6"/>
<line x1="148.0" y1="177.3" x2="148.0" y2="178.1" stroke="#555" stroke-width="0.6"/>
<line x1="151.1" y1="177.3" x2="151.1" y2="178.1" stroke="#555" stroke-width="0.6"/>
<line x1="153.3" y1="177.3" x2="153.3" y2="178.1" stroke="#555" stroke-width="0.6"/>
<line x1="155.0" y1="177.3" x2="155.0" y2="178.1" stroke="#555" stroke-width="0.6"/>
<line x1="156.3" y1="177.3" x2="156.3" y2="178.1" stroke="#555" stroke-width="0.6"/>
<line x1="157.5" y1="177.3" x2="157.5" y2="178.1" stroke="#555" stroke-width="0.6"/>
<line x1="158.5" y1="177.3" x2="158.5" y2="178.1" stroke="#555" stroke-width="0.6"/>
<line x1="159.4" y1="177.3" x2="159.4" y2="178.1" stroke="#555" stroke-width="0.6"/>
<text x="93.5" y="151.8" text-anchor="start" class="lb">CD11a</text>
<polygon points="4.0,219.6 4.0,219.4 6.0,218.0 9.0,216.8 12.0,214.5 15.0,211.5 17.0,207.0 19.0,200.5 21.0,194.0 23.0,190.0 24.5,188.6 26.0,191.5 28.0,197.0 30.0,203.0 32.0,208.0 34.0,211.5 37.0,214.5 40.0,216.5 45.0,218.0 55.0,219.0 65.0,219.4 65.0,219.6" fill="#d1d1d1" stroke="#555" stroke-width="0.7"/>
<polyline points="19.0,201.0 21.0,195.0 22.5,191.0 24.0,188.5 25.3,187.8 26.8,190.5 28.5,195.5 30.5,201.0 33.0,207.0 36.0,212.0" fill="none" stroke="#444" stroke-width="0.8"/>
<polyline points="4.0,202.4 4.3,217.5 5.7,217.6 8.6,216.3 11.5,214.8 14.3,212.0 16.5,209.0 17.9,204.8 19.4,199.6 20.8,194.6 22.2,191.0 23.7,188.7 25.9,194.5 28.0,200.2 30.2,205.2 32.3,209.5 35.2,213.1 38.0,215.2 40.9,216.7 43.8,217.1 46.7,216.7 49.5,216.2 52.4,216.0 55.2,217.1 58.1,218.1 61.0,218.8 66.7,219.2 74.5,219.3" fill="none" stroke="#111" stroke-width="1.6" stroke-linejoin="round"/>
<path d="M3.7,185.7H74.5V219.6" fill="none" stroke="#8c8c8c" stroke-width="1"/>
<path d="M3.7,185.7V219.6H74.5" fill="none" stroke="#111" stroke-width="1.3"/>
<line x1="2.2" y1="187.4" x2="3.7" y2="187.4" stroke="#444" stroke-width="0.8"/>
<line x1="2.2" y1="194.0" x2="3.7" y2="194.0" stroke="#444" stroke-width="0.8"/>
<line x1="2.2" y1="200.6" x2="3.7" y2="200.6" stroke="#444" stroke-width="0.8"/>
<line x1="2.2" y1="207.2" x2="3.7" y2="207.2" stroke="#444" stroke-width="0.8"/>
<line x1="2.2" y1="213.8" x2="3.7" y2="213.8" stroke="#444" stroke-width="0.8"/>
<line x1="3.7" y1="219.6" x2="3.7" y2="221.0" stroke="#555" stroke-width="0.6"/>
<line x1="9.0" y1="219.6" x2="9.0" y2="220.4" stroke="#555" stroke-width="0.6"/>
<line x1="12.1" y1="219.6" x2="12.1" y2="220.4" stroke="#555" stroke-width="0.6"/>
<line x1="14.4" y1="219.6" x2="14.4" y2="220.4" stroke="#555" stroke-width="0.6"/>
<line x1="16.1" y1="219.6" x2="16.1" y2="220.4" stroke="#555" stroke-width="0.6"/>
<line x1="17.5" y1="219.6" x2="17.5" y2="220.4" stroke="#555" stroke-width="0.6"/>
<line x1="18.7" y1="219.6" x2="18.7" y2="220.4" stroke="#555" stroke-width="0.6"/>
<line x1="19.7" y1="219.6" x2="19.7" y2="220.4" stroke="#555" stroke-width="0.6"/>
<line x1="20.6" y1="219.6" x2="20.6" y2="220.4" stroke="#555" stroke-width="0.6"/>
<line x1="21.4" y1="219.6" x2="21.4" y2="221.0" stroke="#555" stroke-width="0.6"/>
<line x1="26.7" y1="219.6" x2="26.7" y2="220.4" stroke="#555" stroke-width="0.6"/>
<line x1="29.8" y1="219.6" x2="29.8" y2="220.4" stroke="#555" stroke-width="0.6"/>
<line x1="32.1" y1="219.6" x2="32.1" y2="220.4" stroke="#555" stroke-width="0.6"/>
<line x1="33.8" y1="219.6" x2="33.8" y2="220.4" stroke="#555" stroke-width="0.6"/>
<line x1="35.2" y1="219.6" x2="35.2" y2="220.4" stroke="#555" stroke-width="0.6"/>
<line x1="36.4" y1="219.6" x2="36.4" y2="220.4" stroke="#555" stroke-width="0.6"/>
<line x1="37.4" y1="219.6" x2="37.4" y2="220.4" stroke="#555" stroke-width="0.6"/>
<line x1="38.3" y1="219.6" x2="38.3" y2="220.4" stroke="#555" stroke-width="0.6"/>
<line x1="39.1" y1="219.6" x2="39.1" y2="221.0" stroke="#555" stroke-width="0.6"/>
<line x1="44.4" y1="219.6" x2="44.4" y2="220.4" stroke="#555" stroke-width="0.6"/>
<line x1="47.5" y1="219.6" x2="47.5" y2="220.4" stroke="#555" stroke-width="0.6"/>
<line x1="49.8" y1="219.6" x2="49.8" y2="220.4" stroke="#555" stroke-width="0.6"/>
<line x1="51.5" y1="219.6" x2="51.5" y2="220.4" stroke="#555" stroke-width="0.6"/>
<line x1="52.9" y1="219.6" x2="52.9" y2="220.4" stroke="#555" stroke-width="0.6"/>
<line x1="54.1" y1="219.6" x2="54.1" y2="220.4" stroke="#555" stroke-width="0.6"/>
<line x1="55.1" y1="219.6" x2="55.1" y2="220.4" stroke="#555" stroke-width="0.6"/>
<line x1="56.0" y1="219.6" x2="56.0" y2="220.4" stroke="#555" stroke-width="0.6"/>
<line x1="56.8" y1="219.6" x2="56.8" y2="221.0" stroke="#555" stroke-width="0.6"/>
<line x1="62.1" y1="219.6" x2="62.1" y2="220.4" stroke="#555" stroke-width="0.6"/>
<line x1="65.2" y1="219.6" x2="65.2" y2="220.4" stroke="#555" stroke-width="0.6"/>
<line x1="67.5" y1="219.6" x2="67.5" y2="220.4" stroke="#555" stroke-width="0.6"/>
<line x1="69.2" y1="219.6" x2="69.2" y2="220.4" stroke="#555" stroke-width="0.6"/>
<line x1="70.6" y1="219.6" x2="70.6" y2="220.4" stroke="#555" stroke-width="0.6"/>
<line x1="71.8" y1="219.6" x2="71.8" y2="220.4" stroke="#555" stroke-width="0.6"/>
<line x1="72.8" y1="219.6" x2="72.8" y2="220.4" stroke="#555" stroke-width="0.6"/>
<line x1="73.7" y1="219.6" x2="73.7" y2="220.4" stroke="#555" stroke-width="0.6"/>
<text x="73.2" y="194.4" text-anchor="end" class="lb">CD11b</text>
<polygon points="91.0,219.3 91.0,219.2 91.0,218.5 96.0,217.5 101.0,215.2 105.5,211.5 110.0,207.0 110.9,206.3 111.8,206.0 112.7,205.5 113.6,203.6 114.5,203.2 115.4,202.7 116.3,201.7 117.2,200.8 118.1,199.0 119.0,198.7 120.1,196.8 121.2,196.5 122.3,196.7 123.5,197.2 124.5,197.4 125.5,196.3 126.5,196.5 127.5,196.2 128.5,195.7 129.5,195.7 130.6,195.5 131.7,194.2 132.8,193.1 134.0,190.5 135.0,189.6 136.0,189.0 137.5,188.5 139.0,191.7 141.0,197.0 143.0,203.0 145.0,209.0 147.0,214.2 149.0,217.0 152.0,219.0 152.0,219.3" fill="#d1d1d1" stroke="#555" stroke-width="0.7"/>
<polyline points="91.0,212.0 91.5,218.7 93.5,219.0 97.0,218.0 101.0,216.7 105.0,215.8 108.5,215.2 113.0,214.5 116.0,213.7 118.0,212.5 120.5,210.7 123.0,209.0 125.0,207.7 128.0,206.2 131.0,202.5 133.2,198.0 135.5,193.5 137.0,190.3 138.5,191.5 140.7,196.5 143.0,204.0 145.2,210.0 147.5,214.5 149.7,218.2 152.0,219.0 160.5,219.1" fill="none" stroke="#111" stroke-width="1.6" stroke-linejoin="round"/>
<path d="M90.5,185.7H160.5V219.3" fill="none" stroke="#8c8c8c" stroke-width="1"/>
<path d="M90.5,185.7V219.3H160.5" fill="none" stroke="#111" stroke-width="1.3"/>
<line x1="89.0" y1="187.4" x2="90.5" y2="187.4" stroke="#444" stroke-width="0.8"/>
<line x1="89.0" y1="193.9" x2="90.5" y2="193.9" stroke="#444" stroke-width="0.8"/>
<line x1="89.0" y1="200.5" x2="90.5" y2="200.5" stroke="#444" stroke-width="0.8"/>
<line x1="89.0" y1="207.0" x2="90.5" y2="207.0" stroke="#444" stroke-width="0.8"/>
<line x1="89.0" y1="213.6" x2="90.5" y2="213.6" stroke="#444" stroke-width="0.8"/>
<line x1="90.5" y1="219.3" x2="90.5" y2="220.7" stroke="#555" stroke-width="0.6"/>
<line x1="95.8" y1="219.3" x2="95.8" y2="220.1" stroke="#555" stroke-width="0.6"/>
<line x1="98.8" y1="219.3" x2="98.8" y2="220.1" stroke="#555" stroke-width="0.6"/>
<line x1="101.0" y1="219.3" x2="101.0" y2="220.1" stroke="#555" stroke-width="0.6"/>
<line x1="102.7" y1="219.3" x2="102.7" y2="220.1" stroke="#555" stroke-width="0.6"/>
<line x1="104.1" y1="219.3" x2="104.1" y2="220.1" stroke="#555" stroke-width="0.6"/>
<line x1="105.3" y1="219.3" x2="105.3" y2="220.1" stroke="#555" stroke-width="0.6"/>
<line x1="106.3" y1="219.3" x2="106.3" y2="220.1" stroke="#555" stroke-width="0.6"/>
<line x1="107.2" y1="219.3" x2="107.2" y2="220.1" stroke="#555" stroke-width="0.6"/>
<line x1="108.0" y1="219.3" x2="108.0" y2="220.7" stroke="#555" stroke-width="0.6"/>
<line x1="113.3" y1="219.3" x2="113.3" y2="220.1" stroke="#555" stroke-width="0.6"/>
<line x1="116.3" y1="219.3" x2="116.3" y2="220.1" stroke="#555" stroke-width="0.6"/>
<line x1="118.5" y1="219.3" x2="118.5" y2="220.1" stroke="#555" stroke-width="0.6"/>
<line x1="120.2" y1="219.3" x2="120.2" y2="220.1" stroke="#555" stroke-width="0.6"/>
<line x1="121.6" y1="219.3" x2="121.6" y2="220.1" stroke="#555" stroke-width="0.6"/>
<line x1="122.8" y1="219.3" x2="122.8" y2="220.1" stroke="#555" stroke-width="0.6"/>
<line x1="123.8" y1="219.3" x2="123.8" y2="220.1" stroke="#555" stroke-width="0.6"/>
<line x1="124.7" y1="219.3" x2="124.7" y2="220.1" stroke="#555" stroke-width="0.6"/>
<line x1="125.5" y1="219.3" x2="125.5" y2="220.7" stroke="#555" stroke-width="0.6"/>
<line x1="130.8" y1="219.3" x2="130.8" y2="220.1" stroke="#555" stroke-width="0.6"/>
<line x1="133.8" y1="219.3" x2="133.8" y2="220.1" stroke="#555" stroke-width="0.6"/>
<line x1="136.0" y1="219.3" x2="136.0" y2="220.1" stroke="#555" stroke-width="0.6"/>
<line x1="137.7" y1="219.3" x2="137.7" y2="220.1" stroke="#555" stroke-width="0.6"/>
<line x1="139.1" y1="219.3" x2="139.1" y2="220.1" stroke="#555" stroke-width="0.6"/>
<line x1="140.3" y1="219.3" x2="140.3" y2="220.1" stroke="#555" stroke-width="0.6"/>
<line x1="141.3" y1="219.3" x2="141.3" y2="220.1" stroke="#555" stroke-width="0.6"/>
<line x1="142.2" y1="219.3" x2="142.2" y2="220.1" stroke="#555" stroke-width="0.6"/>
<line x1="143.0" y1="219.3" x2="143.0" y2="220.7" stroke="#555" stroke-width="0.6"/>
<line x1="148.3" y1="219.3" x2="148.3" y2="220.1" stroke="#555" stroke-width="0.6"/>
<line x1="151.3" y1="219.3" x2="151.3" y2="220.1" stroke="#555" stroke-width="0.6"/>
<line x1="153.5" y1="219.3" x2="153.5" y2="220.1" stroke="#555" stroke-width="0.6"/>
<line x1="155.2" y1="219.3" x2="155.2" y2="220.1" stroke="#555" stroke-width="0.6"/>
<line x1="156.6" y1="219.3" x2="156.6" y2="220.1" stroke="#555" stroke-width="0.6"/>
<line x1="157.8" y1="219.3" x2="157.8" y2="220.1" stroke="#555" stroke-width="0.6"/>
<line x1="158.8" y1="219.3" x2="158.8" y2="220.1" stroke="#555" stroke-width="0.6"/>
<line x1="159.7" y1="219.3" x2="159.7" y2="220.1" stroke="#555" stroke-width="0.6"/>
<text x="93.8" y="194.8" text-anchor="start" class="lb">CD11b</text>
<polygon points="29.0,259.6 29.0,259.4 31.0,257.5 33.1,255.1 35.8,247.7 37.7,242.2 39.5,237.6 41.4,233.0 42.6,231.2 44.1,235.8 46.0,242.2 47.8,248.7 50.6,254.2 53.3,257.8 57.0,259.4 57.0,259.6" fill="#d1d1d1" stroke="#555" stroke-width="0.7"/>
<polyline points="36.0,248.0 38.0,242.0 40.0,235.5 41.9,230.3 43.5,233.0 45.5,240.0 47.5,247.0 50.0,253.0" fill="none" stroke="#444" stroke-width="0.8"/>
<polyline points="4.5,259.3 5.5,258.0 11.0,257.0 16.5,255.8 22.0,254.3 26.7,251.5 29.4,247.8 31.2,244.2 33.1,240.5 34.9,237.7 36.8,235.9 38.6,235.0 40.4,235.9 42.3,238.5 45.0,244.1 47.8,250.5 50.6,255.1 54.2,257.8 58.8,258.9 74.5,259.3" fill="none" stroke="#111" stroke-width="1.6" stroke-linejoin="round"/>
<path d="M4.5,225.7H74.5V259.6" fill="none" stroke="#8c8c8c" stroke-width="1"/>
<path d="M4.5,225.7V259.6H74.5" fill="none" stroke="#111" stroke-width="1.3"/>
<line x1="3.0" y1="227.4" x2="4.5" y2="227.4" stroke="#444" stroke-width="0.8"/>
<line x1="3.0" y1="234.0" x2="4.5" y2="234.0" stroke="#444" stroke-width="0.8"/>
<line x1="3.0" y1="240.6" x2="4.5" y2="240.6" stroke="#444" stroke-width="0.8"/>
<line x1="3.0" y1="247.2" x2="4.5" y2="247.2" stroke="#444" stroke-width="0.8"/>
<line x1="3.0" y1="253.8" x2="4.5" y2="253.8" stroke="#444" stroke-width="0.8"/>
<line x1="4.5" y1="259.6" x2="4.5" y2="261.0" stroke="#555" stroke-width="0.6"/>
<line x1="9.8" y1="259.6" x2="9.8" y2="260.4" stroke="#555" stroke-width="0.6"/>
<line x1="12.8" y1="259.6" x2="12.8" y2="260.4" stroke="#555" stroke-width="0.6"/>
<line x1="15.0" y1="259.6" x2="15.0" y2="260.4" stroke="#555" stroke-width="0.6"/>
<line x1="16.7" y1="259.6" x2="16.7" y2="260.4" stroke="#555" stroke-width="0.6"/>
<line x1="18.1" y1="259.6" x2="18.1" y2="260.4" stroke="#555" stroke-width="0.6"/>
<line x1="19.3" y1="259.6" x2="19.3" y2="260.4" stroke="#555" stroke-width="0.6"/>
<line x1="20.3" y1="259.6" x2="20.3" y2="260.4" stroke="#555" stroke-width="0.6"/>
<line x1="21.2" y1="259.6" x2="21.2" y2="260.4" stroke="#555" stroke-width="0.6"/>
<line x1="22.0" y1="259.6" x2="22.0" y2="261.0" stroke="#555" stroke-width="0.6"/>
<line x1="27.3" y1="259.6" x2="27.3" y2="260.4" stroke="#555" stroke-width="0.6"/>
<line x1="30.3" y1="259.6" x2="30.3" y2="260.4" stroke="#555" stroke-width="0.6"/>
<line x1="32.5" y1="259.6" x2="32.5" y2="260.4" stroke="#555" stroke-width="0.6"/>
<line x1="34.2" y1="259.6" x2="34.2" y2="260.4" stroke="#555" stroke-width="0.6"/>
<line x1="35.6" y1="259.6" x2="35.6" y2="260.4" stroke="#555" stroke-width="0.6"/>
<line x1="36.8" y1="259.6" x2="36.8" y2="260.4" stroke="#555" stroke-width="0.6"/>
<line x1="37.8" y1="259.6" x2="37.8" y2="260.4" stroke="#555" stroke-width="0.6"/>
<line x1="38.7" y1="259.6" x2="38.7" y2="260.4" stroke="#555" stroke-width="0.6"/>
<line x1="39.5" y1="259.6" x2="39.5" y2="261.0" stroke="#555" stroke-width="0.6"/>
<line x1="44.8" y1="259.6" x2="44.8" y2="260.4" stroke="#555" stroke-width="0.6"/>
<line x1="47.8" y1="259.6" x2="47.8" y2="260.4" stroke="#555" stroke-width="0.6"/>
<line x1="50.0" y1="259.6" x2="50.0" y2="260.4" stroke="#555" stroke-width="0.6"/>
<line x1="51.7" y1="259.6" x2="51.7" y2="260.4" stroke="#555" stroke-width="0.6"/>
<line x1="53.1" y1="259.6" x2="53.1" y2="260.4" stroke="#555" stroke-width="0.6"/>
<line x1="54.3" y1="259.6" x2="54.3" y2="260.4" stroke="#555" stroke-width="0.6"/>
<line x1="55.3" y1="259.6" x2="55.3" y2="260.4" stroke="#555" stroke-width="0.6"/>
<line x1="56.2" y1="259.6" x2="56.2" y2="260.4" stroke="#555" stroke-width="0.6"/>
<line x1="57.0" y1="259.6" x2="57.0" y2="261.0" stroke="#555" stroke-width="0.6"/>
<line x1="62.3" y1="259.6" x2="62.3" y2="260.4" stroke="#555" stroke-width="0.6"/>
<line x1="65.3" y1="259.6" x2="65.3" y2="260.4" stroke="#555" stroke-width="0.6"/>
<line x1="67.5" y1="259.6" x2="67.5" y2="260.4" stroke="#555" stroke-width="0.6"/>
<line x1="69.2" y1="259.6" x2="69.2" y2="260.4" stroke="#555" stroke-width="0.6"/>
<line x1="70.6" y1="259.6" x2="70.6" y2="260.4" stroke="#555" stroke-width="0.6"/>
<line x1="71.8" y1="259.6" x2="71.8" y2="260.4" stroke="#555" stroke-width="0.6"/>
<line x1="72.8" y1="259.6" x2="72.8" y2="260.4" stroke="#555" stroke-width="0.6"/>
<line x1="73.7" y1="259.6" x2="73.7" y2="260.4" stroke="#555" stroke-width="0.6"/>
<text x="73.2" y="234.2" text-anchor="end" class="lb">CD11c</text>
<polygon points="108.0,259.8 108.0,259.6 109.9,258.8 115.4,257.0 119.1,255.1 122.8,251.4 125.5,245.9 128.3,240.4 131.0,234.9 132.9,232.1 134.7,236.7 136.6,243.1 138.4,249.6 140.2,255.1 142.1,258.4 144.0,259.5 144.0,259.8" fill="#d1d1d1" stroke="#555" stroke-width="0.7"/>
<polyline points="90.8,258.0 92.0,257.8 97.0,257.3 104.4,256.6 109.9,255.5 115.4,254.2 119.1,252.3 121.8,249.6 124.6,245.0 127.4,240.4 130.1,235.8 132.9,231.2 134.7,234.9 136.6,240.4 138.4,246.8 140.2,253.3 142.1,256.9 144.8,258.8 159.5,259.1 160.5,259.2" fill="none" stroke="#111" stroke-width="1.6" stroke-linejoin="round"/>
<path d="M90.5,226.2H160.5V259.8" fill="none" stroke="#8c8c8c" stroke-width="1"/>
<path d="M90.5,226.2V259.8H160.5" fill="none" stroke="#111" stroke-width="1.3"/>
<line x1="89.0" y1="227.9" x2="90.5" y2="227.9" stroke="#444" stroke-width="0.8"/>
<line x1="89.0" y1="234.4" x2="90.5" y2="234.4" stroke="#444" stroke-width="0.8"/>
<line x1="89.0" y1="241.0" x2="90.5" y2="241.0" stroke="#444" stroke-width="0.8"/>
<line x1="89.0" y1="247.5" x2="90.5" y2="247.5" stroke="#444" stroke-width="0.8"/>
<line x1="89.0" y1="254.1" x2="90.5" y2="254.1" stroke="#444" stroke-width="0.8"/>
<line x1="90.5" y1="259.8" x2="90.5" y2="261.2" stroke="#555" stroke-width="0.6"/>
<line x1="95.8" y1="259.8" x2="95.8" y2="260.6" stroke="#555" stroke-width="0.6"/>
<line x1="98.8" y1="259.8" x2="98.8" y2="260.6" stroke="#555" stroke-width="0.6"/>
<line x1="101.0" y1="259.8" x2="101.0" y2="260.6" stroke="#555" stroke-width="0.6"/>
<line x1="102.7" y1="259.8" x2="102.7" y2="260.6" stroke="#555" stroke-width="0.6"/>
<line x1="104.1" y1="259.8" x2="104.1" y2="260.6" stroke="#555" stroke-width="0.6"/>
<line x1="105.3" y1="259.8" x2="105.3" y2="260.6" stroke="#555" stroke-width="0.6"/>
<line x1="106.3" y1="259.8" x2="106.3" y2="260.6" stroke="#555" stroke-width="0.6"/>
<line x1="107.2" y1="259.8" x2="107.2" y2="260.6" stroke="#555" stroke-width="0.6"/>
<line x1="108.0" y1="259.8" x2="108.0" y2="261.2" stroke="#555" stroke-width="0.6"/>
<line x1="113.3" y1="259.8" x2="113.3" y2="260.6" stroke="#555" stroke-width="0.6"/>
<line x1="116.3" y1="259.8" x2="116.3" y2="260.6" stroke="#555" stroke-width="0.6"/>
<line x1="118.5" y1="259.8" x2="118.5" y2="260.6" stroke="#555" stroke-width="0.6"/>
<line x1="120.2" y1="259.8" x2="120.2" y2="260.6" stroke="#555" stroke-width="0.6"/>
<line x1="121.6" y1="259.8" x2="121.6" y2="260.6" stroke="#555" stroke-width="0.6"/>
<line x1="122.8" y1="259.8" x2="122.8" y2="260.6" stroke="#555" stroke-width="0.6"/>
<line x1="123.8" y1="259.8" x2="123.8" y2="260.6" stroke="#555" stroke-width="0.6"/>
<line x1="124.7" y1="259.8" x2="124.7" y2="260.6" stroke="#555" stroke-width="0.6"/>
<line x1="125.5" y1="259.8" x2="125.5" y2="261.2" stroke="#555" stroke-width="0.6"/>
<line x1="130.8" y1="259.8" x2="130.8" y2="260.6" stroke="#555" stroke-width="0.6"/>
<line x1="133.8" y1="259.8" x2="133.8" y2="260.6" stroke="#555" stroke-width="0.6"/>
<line x1="136.0" y1="259.8" x2="136.0" y2="260.6" stroke="#555" stroke-width="0.6"/>
<line x1="137.7" y1="259.8" x2="137.7" y2="260.6" stroke="#555" stroke-width="0.6"/>
<line x1="139.1" y1="259.8" x2="139.1" y2="260.6" stroke="#555" stroke-width="0.6"/>
<line x1="140.3" y1="259.8" x2="140.3" y2="260.6" stroke="#555" stroke-width="0.6"/>
<line x1="141.3" y1="259.8" x2="141.3" y2="260.6" stroke="#555" stroke-width="0.6"/>
<line x1="142.2" y1="259.8" x2="142.2" y2="260.6" stroke="#555" stroke-width="0.6"/>
<line x1="143.0" y1="259.8" x2="143.0" y2="261.2" stroke="#555" stroke-width="0.6"/>
<line x1="148.3" y1="259.8" x2="148.3" y2="260.6" stroke="#555" stroke-width="0.6"/>
<line x1="151.3" y1="259.8" x2="151.3" y2="260.6" stroke="#555" stroke-width="0.6"/>
<line x1="153.5" y1="259.8" x2="153.5" y2="260.6" stroke="#555" stroke-width="0.6"/>
<line x1="155.2" y1="259.8" x2="155.2" y2="260.6" stroke="#555" stroke-width="0.6"/>
<line x1="156.6" y1="259.8" x2="156.6" y2="260.6" stroke="#555" stroke-width="0.6"/>
<line x1="157.8" y1="259.8" x2="157.8" y2="260.6" stroke="#555" stroke-width="0.6"/>
<line x1="158.8" y1="259.8" x2="158.8" y2="260.6" stroke="#555" stroke-width="0.6"/>
<line x1="159.7" y1="259.8" x2="159.7" y2="260.6" stroke="#555" stroke-width="0.6"/>
<text x="93.5" y="234.2" text-anchor="start" class="lb">CD11c</text>
<polygon points="219.0,53.4 219.0,53.3 221.0,52.8 224.0,50.0 226.0,42.5 228.0,33.5 229.5,27.5 231.0,25.2 233.0,29.0 235.0,36.5 237.0,44.0 239.0,50.0 242.0,53.0 242.0,53.4" fill="#d1d1d1" stroke="#555" stroke-width="0.7"/>
<polyline points="182.7,53.2 210.0,53.0 213.0,52.0 217.0,50.7 220.0,48.5 222.5,46.0 224.3,40.5 225.8,34.0 227.2,29.3 228.5,26.3 230.0,25.7 231.5,27.5 233.0,31.2 235.0,38.0 237.0,44.7 239.0,50.0 242.0,52.5 245.0,53.2 253.2,53.2" fill="none" stroke="#111" stroke-width="1.6" stroke-linejoin="round"/>
<path d="M182.7,20.0H253.2V53.4" fill="none" stroke="#8c8c8c" stroke-width="1"/>
<path d="M182.7,20.0V53.4H253.2" fill="none" stroke="#111" stroke-width="1.3"/>
<line x1="181.2" y1="21.7" x2="182.7" y2="21.7" stroke="#444" stroke-width="0.8"/>
<line x1="181.2" y1="28.2" x2="182.7" y2="28.2" stroke="#444" stroke-width="0.8"/>
<line x1="181.2" y1="34.7" x2="182.7" y2="34.7" stroke="#444" stroke-width="0.8"/>
<line x1="181.2" y1="41.2" x2="182.7" y2="41.2" stroke="#444" stroke-width="0.8"/>
<line x1="181.2" y1="47.7" x2="182.7" y2="47.7" stroke="#444" stroke-width="0.8"/>
<line x1="182.7" y1="53.4" x2="182.7" y2="54.8" stroke="#555" stroke-width="0.6"/>
<line x1="188.0" y1="53.4" x2="188.0" y2="54.2" stroke="#555" stroke-width="0.6"/>
<line x1="191.1" y1="53.4" x2="191.1" y2="54.2" stroke="#555" stroke-width="0.6"/>
<line x1="193.3" y1="53.4" x2="193.3" y2="54.2" stroke="#555" stroke-width="0.6"/>
<line x1="195.0" y1="53.4" x2="195.0" y2="54.2" stroke="#555" stroke-width="0.6"/>
<line x1="196.4" y1="53.4" x2="196.4" y2="54.2" stroke="#555" stroke-width="0.6"/>
<line x1="197.6" y1="53.4" x2="197.6" y2="54.2" stroke="#555" stroke-width="0.6"/>
<line x1="198.6" y1="53.4" x2="198.6" y2="54.2" stroke="#555" stroke-width="0.6"/>
<line x1="199.5" y1="53.4" x2="199.5" y2="54.2" stroke="#555" stroke-width="0.6"/>
<line x1="200.3" y1="53.4" x2="200.3" y2="54.8" stroke="#555" stroke-width="0.6"/>
<line x1="205.6" y1="53.4" x2="205.6" y2="54.2" stroke="#555" stroke-width="0.6"/>
<line x1="208.7" y1="53.4" x2="208.7" y2="54.2" stroke="#555" stroke-width="0.6"/>
<line x1="210.9" y1="53.4" x2="210.9" y2="54.2" stroke="#555" stroke-width="0.6"/>
<line x1="212.6" y1="53.4" x2="212.6" y2="54.2" stroke="#555" stroke-width="0.6"/>
<line x1="214.0" y1="53.4" x2="214.0" y2="54.2" stroke="#555" stroke-width="0.6"/>
<line x1="215.2" y1="53.4" x2="215.2" y2="54.2" stroke="#555" stroke-width="0.6"/>
<line x1="216.2" y1="53.4" x2="216.2" y2="54.2" stroke="#555" stroke-width="0.6"/>
<line x1="217.1" y1="53.4" x2="217.1" y2="54.2" stroke="#555" stroke-width="0.6"/>
<line x1="217.9" y1="53.4" x2="217.9" y2="54.8" stroke="#555" stroke-width="0.6"/>
<line x1="223.3" y1="53.4" x2="223.3" y2="54.2" stroke="#555" stroke-width="0.6"/>
<line x1="226.4" y1="53.4" x2="226.4" y2="54.2" stroke="#555" stroke-width="0.6"/>
<line x1="228.6" y1="53.4" x2="228.6" y2="54.2" stroke="#555" stroke-width="0.6"/>
<line x1="230.3" y1="53.4" x2="230.3" y2="54.2" stroke="#555" stroke-width="0.6"/>
<line x1="231.7" y1="53.4" x2="231.7" y2="54.2" stroke="#555" stroke-width="0.6"/>
<line x1="232.8" y1="53.4" x2="232.8" y2="54.2" stroke="#555" stroke-width="0.6"/>
<line x1="233.9" y1="53.4" x2="233.9" y2="54.2" stroke="#555" stroke-width="0.6"/>
<line x1="234.8" y1="53.4" x2="234.8" y2="54.2" stroke="#555" stroke-width="0.6"/>
<line x1="235.6" y1="53.4" x2="235.6" y2="54.8" stroke="#555" stroke-width="0.6"/>
<line x1="240.9" y1="53.4" x2="240.9" y2="54.2" stroke="#555" stroke-width="0.6"/>
<line x1="244.0" y1="53.4" x2="244.0" y2="54.2" stroke="#555" stroke-width="0.6"/>
<line x1="246.2" y1="53.4" x2="246.2" y2="54.2" stroke="#555" stroke-width="0.6"/>
<line x1="247.9" y1="53.4" x2="247.9" y2="54.2" stroke="#555" stroke-width="0.6"/>
<line x1="249.3" y1="53.4" x2="249.3" y2="54.2" stroke="#555" stroke-width="0.6"/>
<line x1="250.5" y1="53.4" x2="250.5" y2="54.2" stroke="#555" stroke-width="0.6"/>
<line x1="251.5" y1="53.4" x2="251.5" y2="54.2" stroke="#555" stroke-width="0.6"/>
<line x1="252.4" y1="53.4" x2="252.4" y2="54.2" stroke="#555" stroke-width="0.6"/>
<text x="252.5" y="26.4" text-anchor="end" class="lb" style="font-size:7.6px">CD18</text>
<polygon points="312.0,53.4 312.0,53.3 314.0,52.5 317.0,50.0 320.0,42.5 322.0,33.5 324.0,26.0 325.0,24.5 326.3,29.0 327.6,38.0 329.0,46.5 330.8,51.0 333.0,53.2 333.0,53.4" fill="#d1d1d1" stroke="#555" stroke-width="0.7"/>
<polyline points="306.0,52.5 310.0,50.7 314.0,46.2 318.0,38.0 320.0,32.0 322.0,26.7 324.0,23.7 325.5,25.0" fill="none" stroke="#444" stroke-width="0.8"/>
<polyline points="268.7,53.2 305.0,53.0 309.0,51.8 313.0,49.2 316.0,44.7 318.5,38.7 321.0,32.0 323.0,26.7 325.0,24.5 326.6,29.5 328.2,38.0 329.7,46.0 331.3,50.5 334.0,52.6 338.0,53.2" fill="none" stroke="#111" stroke-width="1.6" stroke-linejoin="round"/>
<path d="M268.7,20.0H339.9V53.4" fill="none" stroke="#8c8c8c" stroke-width="1"/>
<path d="M268.7,20.0V53.4H339.9" fill="none" stroke="#111" stroke-width="1.3"/>
<line x1="267.2" y1="21.7" x2="268.7" y2="21.7" stroke="#444" stroke-width="0.8"/>
<line x1="267.2" y1="28.2" x2="268.7" y2="28.2" stroke="#444" stroke-width="0.8"/>
<line x1="267.2" y1="34.7" x2="268.7" y2="34.7" stroke="#444" stroke-width="0.8"/>
<line x1="267.2" y1="41.2" x2="268.7" y2="41.2" stroke="#444" stroke-width="0.8"/>
<line x1="267.2" y1="47.7" x2="268.7" y2="47.7" stroke="#444" stroke-width="0.8"/>
<line x1="268.7" y1="53.4" x2="268.7" y2="54.8" stroke="#555" stroke-width="0.6"/>
<line x1="274.1" y1="53.4" x2="274.1" y2="54.2" stroke="#555" stroke-width="0.6"/>
<line x1="277.2" y1="53.4" x2="277.2" y2="54.2" stroke="#555" stroke-width="0.6"/>
<line x1="279.4" y1="53.4" x2="279.4" y2="54.2" stroke="#555" stroke-width="0.6"/>
<line x1="281.1" y1="53.4" x2="281.1" y2="54.2" stroke="#555" stroke-width="0.6"/>
<line x1="282.6" y1="53.4" x2="282.6" y2="54.2" stroke="#555" stroke-width="0.6"/>
<line x1="283.7" y1="53.4" x2="283.7" y2="54.2" stroke="#555" stroke-width="0.6"/>
<line x1="284.8" y1="53.4" x2="284.8" y2="54.2" stroke="#555" stroke-width="0.6"/>
<line x1="285.7" y1="53.4" x2="285.7" y2="54.2" stroke="#555" stroke-width="0.6"/>
<line x1="286.5" y1="53.4" x2="286.5" y2="54.8" stroke="#555" stroke-width="0.6"/>
<line x1="291.9" y1="53.4" x2="291.9" y2="54.2" stroke="#555" stroke-width="0.6"/>
<line x1="295.0" y1="53.4" x2="295.0" y2="54.2" stroke="#555" stroke-width="0.6"/>
<line x1="297.2" y1="53.4" x2="297.2" y2="54.2" stroke="#555" stroke-width="0.6"/>
<line x1="298.9" y1="53.4" x2="298.9" y2="54.2" stroke="#555" stroke-width="0.6"/>
<line x1="300.4" y1="53.4" x2="300.4" y2="54.2" stroke="#555" stroke-width="0.6"/>
<line x1="301.5" y1="53.4" x2="301.5" y2="54.2" stroke="#555" stroke-width="0.6"/>
<line x1="302.6" y1="53.4" x2="302.6" y2="54.2" stroke="#555" stroke-width="0.6"/>
<line x1="303.5" y1="53.4" x2="303.5" y2="54.2" stroke="#555" stroke-width="0.6"/>
<line x1="304.3" y1="53.4" x2="304.3" y2="54.8" stroke="#555" stroke-width="0.6"/>
<line x1="309.7" y1="53.4" x2="309.7" y2="54.2" stroke="#555" stroke-width="0.6"/>
<line x1="312.8" y1="53.4" x2="312.8" y2="54.2" stroke="#555" stroke-width="0.6"/>
<line x1="315.0" y1="53.4" x2="315.0" y2="54.2" stroke="#555" stroke-width="0.6"/>
<line x1="316.7" y1="53.4" x2="316.7" y2="54.2" stroke="#555" stroke-width="0.6"/>
<line x1="318.2" y1="53.4" x2="318.2" y2="54.2" stroke="#555" stroke-width="0.6"/>
<line x1="319.3" y1="53.4" x2="319.3" y2="54.2" stroke="#555" stroke-width="0.6"/>
<line x1="320.4" y1="53.4" x2="320.4" y2="54.2" stroke="#555" stroke-width="0.6"/>
<line x1="321.3" y1="53.4" x2="321.3" y2="54.2" stroke="#555" stroke-width="0.6"/>
<line x1="322.1" y1="53.4" x2="322.1" y2="54.8" stroke="#555" stroke-width="0.6"/>
<line x1="327.5" y1="53.4" x2="327.5" y2="54.2" stroke="#555" stroke-width="0.6"/>
<line x1="330.6" y1="53.4" x2="330.6" y2="54.2" stroke="#555" stroke-width="0.6"/>
<line x1="332.8" y1="53.4" x2="332.8" y2="54.2" stroke="#555" stroke-width="0.6"/>
<line x1="334.5" y1="53.4" x2="334.5" y2="54.2" stroke="#555" stroke-width="0.6"/>
<line x1="336.0" y1="53.4" x2="336.0" y2="54.2" stroke="#555" stroke-width="0.6"/>
<line x1="337.1" y1="53.4" x2="337.1" y2="54.2" stroke="#555" stroke-width="0.6"/>
<line x1="338.2" y1="53.4" x2="338.2" y2="54.2" stroke="#555" stroke-width="0.6"/>
<line x1="339.1" y1="53.4" x2="339.1" y2="54.2" stroke="#555" stroke-width="0.6"/>
<text x="272.5" y="26.4" text-anchor="start" class="lb" style="font-size:7.6px">CD18</text>
<polygon points="204.0,95.2 204.0,95.0 206.0,94.8 209.0,93.8 212.0,90.5 214.0,84.5 216.0,75.5 217.5,70.2 219.0,74.0 221.0,83.0 223.0,89.0 225.0,92.7 228.0,94.5 232.0,95.0 232.0,95.2" fill="#d1d1d1" stroke="#555" stroke-width="0.7"/>
<polyline points="219.0,72.0 221.0,79.0 223.0,85.0 225.0,89.0 227.0,92.0 229.0,94.0" fill="none" stroke="#444" stroke-width="0.8"/>
<polyline points="183.2,91.2 183.6,95.0 200.0,95.0 203.0,94.2 206.0,93.2 209.0,91.2 211.0,87.5 213.0,80.0 215.0,72.5 216.5,68.7 218.0,69.5 220.0,69.5 221.5,72.5 223.0,76.2 225.0,81.5 227.0,86.0 229.0,89.7 231.0,92.3 234.0,94.0 238.0,95.0 252.9,95.0" fill="none" stroke="#111" stroke-width="1.6" stroke-linejoin="round"/>
<path d="M182.7,62.0H252.9V95.2" fill="none" stroke="#8c8c8c" stroke-width="1"/>
<path d="M182.7,62.0V95.2H252.9" fill="none" stroke="#111" stroke-width="1.3"/>
<line x1="181.2" y1="63.7" x2="182.7" y2="63.7" stroke="#444" stroke-width="0.8"/>
<line x1="181.2" y1="70.1" x2="182.7" y2="70.1" stroke="#444" stroke-width="0.8"/>
<line x1="181.2" y1="76.6" x2="182.7" y2="76.6" stroke="#444" stroke-width="0.8"/>
<line x1="181.2" y1="83.1" x2="182.7" y2="83.1" stroke="#444" stroke-width="0.8"/>
<line x1="181.2" y1="89.6" x2="182.7" y2="89.6" stroke="#444" stroke-width="0.8"/>
<line x1="182.7" y1="95.2" x2="182.7" y2="96.6" stroke="#555" stroke-width="0.6"/>
<line x1="188.0" y1="95.2" x2="188.0" y2="96.0" stroke="#555" stroke-width="0.6"/>
<line x1="191.1" y1="95.2" x2="191.1" y2="96.0" stroke="#555" stroke-width="0.6"/>
<line x1="193.3" y1="95.2" x2="193.3" y2="96.0" stroke="#555" stroke-width="0.6"/>
<line x1="195.0" y1="95.2" x2="195.0" y2="96.0" stroke="#555" stroke-width="0.6"/>
<line x1="196.4" y1="95.2" x2="196.4" y2="96.0" stroke="#555" stroke-width="0.6"/>
<line x1="197.5" y1="95.2" x2="197.5" y2="96.0" stroke="#555" stroke-width="0.6"/>
<line x1="198.5" y1="95.2" x2="198.5" y2="96.0" stroke="#555" stroke-width="0.6"/>
<line x1="199.4" y1="95.2" x2="199.4" y2="96.0" stroke="#555" stroke-width="0.6"/>
<line x1="200.2" y1="95.2" x2="200.2" y2="96.6" stroke="#555" stroke-width="0.6"/>
<line x1="205.5" y1="95.2" x2="205.5" y2="96.0" stroke="#555" stroke-width="0.6"/>
<line x1="208.6" y1="95.2" x2="208.6" y2="96.0" stroke="#555" stroke-width="0.6"/>
<line x1="210.8" y1="95.2" x2="210.8" y2="96.0" stroke="#555" stroke-width="0.6"/>
<line x1="212.5" y1="95.2" x2="212.5" y2="96.0" stroke="#555" stroke-width="0.6"/>
<line x1="213.9" y1="95.2" x2="213.9" y2="96.0" stroke="#555" stroke-width="0.6"/>
<line x1="215.1" y1="95.2" x2="215.1" y2="96.0" stroke="#555" stroke-width="0.6"/>
<line x1="216.1" y1="95.2" x2="216.1" y2="96.0" stroke="#555" stroke-width="0.6"/>
<line x1="217.0" y1="95.2" x2="217.0" y2="96.0" stroke="#555" stroke-width="0.6"/>
<line x1="217.8" y1="95.2" x2="217.8" y2="96.6" stroke="#555" stroke-width="0.6"/>
<line x1="223.1" y1="95.2" x2="223.1" y2="96.0" stroke="#555" stroke-width="0.6"/>
<line x1="226.2" y1="95.2" x2="226.2" y2="96.0" stroke="#555" stroke-width="0.6"/>
<line x1="228.4" y1="95.2" x2="228.4" y2="96.0" stroke="#555" stroke-width="0.6"/>
<line x1="230.1" y1="95.2" x2="230.1" y2="96.0" stroke="#555" stroke-width="0.6"/>
<line x1="231.5" y1="95.2" x2="231.5" y2="96.0" stroke="#555" stroke-width="0.6"/>
<line x1="232.6" y1="95.2" x2="232.6" y2="96.0" stroke="#555" stroke-width="0.6"/>
<line x1="233.6" y1="95.2" x2="233.6" y2="96.0" stroke="#555" stroke-width="0.6"/>
<line x1="234.5" y1="95.2" x2="234.5" y2="96.0" stroke="#555" stroke-width="0.6"/>
<line x1="235.3" y1="95.2" x2="235.3" y2="96.6" stroke="#555" stroke-width="0.6"/>
<line x1="240.6" y1="95.2" x2="240.6" y2="96.0" stroke="#555" stroke-width="0.6"/>
<line x1="243.7" y1="95.2" x2="243.7" y2="96.0" stroke="#555" stroke-width="0.6"/>
<line x1="245.9" y1="95.2" x2="245.9" y2="96.0" stroke="#555" stroke-width="0.6"/>
<line x1="247.6" y1="95.2" x2="247.6" y2="96.0" stroke="#555" stroke-width="0.6"/>
<line x1="249.0" y1="95.2" x2="249.0" y2="96.0" stroke="#555" stroke-width="0.6"/>
<line x1="250.2" y1="95.2" x2="250.2" y2="96.0" stroke="#555" stroke-width="0.6"/>
<line x1="251.2" y1="95.2" x2="251.2" y2="96.0" stroke="#555" stroke-width="0.6"/>
<line x1="252.1" y1="95.2" x2="252.1" y2="96.0" stroke="#555" stroke-width="0.6"/>
<text x="252.2" y="70.3" text-anchor="end" class="lb">CD49d</text>
<polygon points="300.0,95.0 300.0,95.0 302.0,94.8 305.0,92.0 307.0,84.5 309.0,75.5 310.5,68.7 312.0,67.2 313.5,71.0 315.0,78.5 317.0,86.7 319.0,92.7 322.0,95.0 322.0,95.0" fill="#d1d1d1" stroke="#555" stroke-width="0.7"/>
<polyline points="269.6,88.0 270.0,95.0 295.0,95.0 298.0,94.0 301.0,92.3 303.5,89.0 305.5,83.0 307.0,77.0 308.5,71.0 310.0,67.2 312.0,66.2 314.0,69.5 316.0,76.2 318.0,84.5 320.0,90.5 323.0,93.8 327.0,95.0 340.0,95.0" fill="none" stroke="#111" stroke-width="1.6" stroke-linejoin="round"/>
<path d="M269.2,61.8H340.2V95.0" fill="none" stroke="#8c8c8c" stroke-width="1"/>
<path d="M269.2,61.8V95.0H340.2" fill="none" stroke="#111" stroke-width="1.3"/>
<line x1="267.7" y1="63.5" x2="269.2" y2="63.5" stroke="#444" stroke-width="0.8"/>
<line x1="267.7" y1="69.9" x2="269.2" y2="69.9" stroke="#444" stroke-width="0.8"/>
<line x1="267.7" y1="76.4" x2="269.2" y2="76.4" stroke="#444" stroke-width="0.8"/>
<line x1="267.7" y1="82.9" x2="269.2" y2="82.9" stroke="#444" stroke-width="0.8"/>
<line x1="267.7" y1="89.4" x2="269.2" y2="89.4" stroke="#444" stroke-width="0.8"/>
<line x1="269.2" y1="95.0" x2="269.2" y2="96.4" stroke="#555" stroke-width="0.6"/>
<line x1="274.5" y1="95.0" x2="274.5" y2="95.8" stroke="#555" stroke-width="0.6"/>
<line x1="277.7" y1="95.0" x2="277.7" y2="95.8" stroke="#555" stroke-width="0.6"/>
<line x1="279.9" y1="95.0" x2="279.9" y2="95.8" stroke="#555" stroke-width="0.6"/>
<line x1="281.6" y1="95.0" x2="281.6" y2="95.8" stroke="#555" stroke-width="0.6"/>
<line x1="283.0" y1="95.0" x2="283.0" y2="95.8" stroke="#555" stroke-width="0.6"/>
<line x1="284.2" y1="95.0" x2="284.2" y2="95.8" stroke="#555" stroke-width="0.6"/>
<line x1="285.2" y1="95.0" x2="285.2" y2="95.8" stroke="#555" stroke-width="0.6"/>
<line x1="286.1" y1="95.0" x2="286.1" y2="95.8" stroke="#555" stroke-width="0.6"/>
<line x1="286.9" y1="95.0" x2="286.9" y2="96.4" stroke="#555" stroke-width="0.6"/>
<line x1="292.3" y1="95.0" x2="292.3" y2="95.8" stroke="#555" stroke-width="0.6"/>
<line x1="295.4" y1="95.0" x2="295.4" y2="95.8" stroke="#555" stroke-width="0.6"/>
<line x1="297.6" y1="95.0" x2="297.6" y2="95.8" stroke="#555" stroke-width="0.6"/>
<line x1="299.4" y1="95.0" x2="299.4" y2="95.8" stroke="#555" stroke-width="0.6"/>
<line x1="300.8" y1="95.0" x2="300.8" y2="95.8" stroke="#555" stroke-width="0.6"/>
<line x1="302.0" y1="95.0" x2="302.0" y2="95.8" stroke="#555" stroke-width="0.6"/>
<line x1="303.0" y1="95.0" x2="303.0" y2="95.8" stroke="#555" stroke-width="0.6"/>
<line x1="303.9" y1="95.0" x2="303.9" y2="95.8" stroke="#555" stroke-width="0.6"/>
<line x1="304.7" y1="95.0" x2="304.7" y2="96.4" stroke="#555" stroke-width="0.6"/>
<line x1="310.0" y1="95.0" x2="310.0" y2="95.8" stroke="#555" stroke-width="0.6"/>
<line x1="313.2" y1="95.0" x2="313.2" y2="95.8" stroke="#555" stroke-width="0.6"/>
<line x1="315.4" y1="95.0" x2="315.4" y2="95.8" stroke="#555" stroke-width="0.6"/>
<line x1="317.1" y1="95.0" x2="317.1" y2="95.8" stroke="#555" stroke-width="0.6"/>
<line x1="318.5" y1="95.0" x2="318.5" y2="95.8" stroke="#555" stroke-width="0.6"/>
<line x1="319.7" y1="95.0" x2="319.7" y2="95.8" stroke="#555" stroke-width="0.6"/>
<line x1="320.7" y1="95.0" x2="320.7" y2="95.8" stroke="#555" stroke-width="0.6"/>
<line x1="321.6" y1="95.0" x2="321.6" y2="95.8" stroke="#555" stroke-width="0.6"/>
<line x1="322.4" y1="95.0" x2="322.4" y2="96.4" stroke="#555" stroke-width="0.6"/>
<line x1="327.8" y1="95.0" x2="327.8" y2="95.8" stroke="#555" stroke-width="0.6"/>
<line x1="330.9" y1="95.0" x2="330.9" y2="95.8" stroke="#555" stroke-width="0.6"/>
<line x1="333.1" y1="95.0" x2="333.1" y2="95.8" stroke="#555" stroke-width="0.6"/>
<line x1="334.9" y1="95.0" x2="334.9" y2="95.8" stroke="#555" stroke-width="0.6"/>
<line x1="336.3" y1="95.0" x2="336.3" y2="95.8" stroke="#555" stroke-width="0.6"/>
<line x1="337.5" y1="95.0" x2="337.5" y2="95.8" stroke="#555" stroke-width="0.6"/>
<line x1="338.5" y1="95.0" x2="338.5" y2="95.8" stroke="#555" stroke-width="0.6"/>
<line x1="339.4" y1="95.0" x2="339.4" y2="95.8" stroke="#555" stroke-width="0.6"/>
<text x="273.2" y="70.3" text-anchor="start" class="lb">CD49d</text>
<polygon points="185.0,136.4 185.0,136.4 185.0,119.0 186.0,118.0 187.0,115.7 188.0,117.1 189.0,119.5 190.0,117.3 191.0,116.5 192.0,116.0 193.0,114.2 194.0,113.3 195.0,112.7 196.0,112.7 197.0,113.3 198.0,113.5 199.0,114.8 200.0,116.5 201.0,118.5 202.0,119.1 203.0,121.0 206.0,126.2 210.0,130.7 215.0,133.7 220.0,135.5 228.0,136.2 228.0,136.4" fill="#d1d1d1" stroke="#555" stroke-width="0.7"/>
<polyline points="185.0,119.0 186.0,121.5 188.0,121.0 190.0,118.7 192.0,115.0 194.0,114.2 196.0,112.7 198.0,113.5 200.0,115.7 203.0,119.5 206.0,124.7 209.0,128.5 213.0,131.5 218.0,134.2 224.0,135.5 235.0,136.2 253.2,136.2" fill="none" stroke="#111" stroke-width="1.6" stroke-linejoin="round"/>
<path d="M184.2,104.4H253.2V136.4" fill="none" stroke="#8c8c8c" stroke-width="1"/>
<path d="M184.2,104.4V136.4H253.2" fill="none" stroke="#111" stroke-width="1.3"/>
<line x1="182.7" y1="106.0" x2="184.2" y2="106.0" stroke="#444" stroke-width="0.8"/>
<line x1="182.7" y1="112.2" x2="184.2" y2="112.2" stroke="#444" stroke-width="0.8"/>
<line x1="182.7" y1="118.5" x2="184.2" y2="118.5" stroke="#444" stroke-width="0.8"/>
<line x1="182.7" y1="124.7" x2="184.2" y2="124.7" stroke="#444" stroke-width="0.8"/>
<line x1="182.7" y1="131.0" x2="184.2" y2="131.0" stroke="#444" stroke-width="0.8"/>
<line x1="184.2" y1="136.4" x2="184.2" y2="137.8" stroke="#555" stroke-width="0.6"/>
<line x1="189.4" y1="136.4" x2="189.4" y2="137.2" stroke="#555" stroke-width="0.6"/>
<line x1="192.4" y1="136.4" x2="192.4" y2="137.2" stroke="#555" stroke-width="0.6"/>
<line x1="194.6" y1="136.4" x2="194.6" y2="137.2" stroke="#555" stroke-width="0.6"/>
<line x1="196.3" y1="136.4" x2="196.3" y2="137.2" stroke="#555" stroke-width="0.6"/>
<line x1="197.6" y1="136.4" x2="197.6" y2="137.2" stroke="#555" stroke-width="0.6"/>
<line x1="198.8" y1="136.4" x2="198.8" y2="137.2" stroke="#555" stroke-width="0.6"/>
<line x1="199.8" y1="136.4" x2="199.8" y2="137.2" stroke="#555" stroke-width="0.6"/>
<line x1="200.7" y1="136.4" x2="200.7" y2="137.2" stroke="#555" stroke-width="0.6"/>
<line x1="201.4" y1="136.4" x2="201.4" y2="137.8" stroke="#555" stroke-width="0.6"/>
<line x1="206.6" y1="136.4" x2="206.6" y2="137.2" stroke="#555" stroke-width="0.6"/>
<line x1="209.7" y1="136.4" x2="209.7" y2="137.2" stroke="#555" stroke-width="0.6"/>
<line x1="211.8" y1="136.4" x2="211.8" y2="137.2" stroke="#555" stroke-width="0.6"/>
<line x1="213.5" y1="136.4" x2="213.5" y2="137.2" stroke="#555" stroke-width="0.6"/>
<line x1="214.9" y1="136.4" x2="214.9" y2="137.2" stroke="#555" stroke-width="0.6"/>
<line x1="216.0" y1="136.4" x2="216.0" y2="137.2" stroke="#555" stroke-width="0.6"/>
<line x1="217.0" y1="136.4" x2="217.0" y2="137.2" stroke="#555" stroke-width="0.6"/>
<line x1="217.9" y1="136.4" x2="217.9" y2="137.2" stroke="#555" stroke-width="0.6"/>
<line x1="218.7" y1="136.4" x2="218.7" y2="137.8" stroke="#555" stroke-width="0.6"/>
<line x1="223.9" y1="136.4" x2="223.9" y2="137.2" stroke="#555" stroke-width="0.6"/>
<line x1="226.9" y1="136.4" x2="226.9" y2="137.2" stroke="#555" stroke-width="0.6"/>
<line x1="229.1" y1="136.4" x2="229.1" y2="137.2" stroke="#555" stroke-width="0.6"/>
<line x1="230.8" y1="136.4" x2="230.8" y2="137.2" stroke="#555" stroke-width="0.6"/>
<line x1="232.1" y1="136.4" x2="232.1" y2="137.2" stroke="#555" stroke-width="0.6"/>
<line x1="233.3" y1="136.4" x2="233.3" y2="137.2" stroke="#555" stroke-width="0.6"/>
<line x1="234.3" y1="136.4" x2="234.3" y2="137.2" stroke="#555" stroke-width="0.6"/>
<line x1="235.2" y1="136.4" x2="235.2" y2="137.2" stroke="#555" stroke-width="0.6"/>
<line x1="235.9" y1="136.4" x2="235.9" y2="137.8" stroke="#555" stroke-width="0.6"/>
<line x1="241.1" y1="136.4" x2="241.1" y2="137.2" stroke="#555" stroke-width="0.6"/>
<line x1="244.2" y1="136.4" x2="244.2" y2="137.2" stroke="#555" stroke-width="0.6"/>
<line x1="246.3" y1="136.4" x2="246.3" y2="137.2" stroke="#555" stroke-width="0.6"/>
<line x1="248.0" y1="136.4" x2="248.0" y2="137.2" stroke="#555" stroke-width="0.6"/>
<line x1="249.4" y1="136.4" x2="249.4" y2="137.2" stroke="#555" stroke-width="0.6"/>
<line x1="250.5" y1="136.4" x2="250.5" y2="137.2" stroke="#555" stroke-width="0.6"/>
<line x1="251.5" y1="136.4" x2="251.5" y2="137.2" stroke="#555" stroke-width="0.6"/>
<line x1="252.4" y1="136.4" x2="252.4" y2="137.2" stroke="#555" stroke-width="0.6"/>
<text x="252.5" y="110.7" text-anchor="end" class="lb">CD9</text>
<polygon points="270.0,136.6 270.0,136.4 272.0,135.5 278.0,133.7 284.0,131.5 289.0,129.2 293.0,125.5 297.0,121.7 300.0,118.0 302.0,116.5 304.0,116.0 306.0,116.0 308.0,116.5 310.0,119.0 312.0,124.0 314.0,129.2 316.0,133.3 319.0,135.2 323.0,136.3 323.0,136.6" fill="#d1d1d1" stroke="#555" stroke-width="0.7"/>
<polyline points="293.0,126.5 297.0,121.7 300.0,117.2 302.0,112.0 304.0,109.7 306.0,112.7 308.0,115.7 310.0,118.0" fill="none" stroke="#444" stroke-width="0.8"/>
<polyline points="270.0,136.4 275.0,135.0 280.0,133.7 285.0,131.5 289.0,128.5 291.0,127.0 292.5,127.7 295.0,124.7 298.0,121.0 300.0,118.7 302.0,116.5 304.0,115.0 306.0,115.0 308.0,115.7 309.5,117.2 311.0,121.0 313.0,126.2 315.0,131.5 317.0,134.5 320.0,135.7 325.0,136.3 338.4,136.4" fill="none" stroke="#111" stroke-width="1.6" stroke-linejoin="round"/>
<path d="M269.2,104.6H338.4V136.6" fill="none" stroke="#8c8c8c" stroke-width="1"/>
<path d="M269.2,104.6V136.6H338.4" fill="none" stroke="#111" stroke-width="1.3"/>
<line x1="267.7" y1="106.2" x2="269.2" y2="106.2" stroke="#444" stroke-width="0.8"/>
<line x1="267.7" y1="112.4" x2="269.2" y2="112.4" stroke="#444" stroke-width="0.8"/>
<line x1="267.7" y1="118.7" x2="269.2" y2="118.7" stroke="#444" stroke-width="0.8"/>
<line x1="267.7" y1="124.9" x2="269.2" y2="124.9" stroke="#444" stroke-width="0.8"/>
<line x1="267.7" y1="131.2" x2="269.2" y2="131.2" stroke="#444" stroke-width="0.8"/>
<line x1="269.2" y1="136.6" x2="269.2" y2="138.0" stroke="#555" stroke-width="0.6"/>
<line x1="274.4" y1="136.6" x2="274.4" y2="137.4" stroke="#555" stroke-width="0.6"/>
<line x1="277.5" y1="136.6" x2="277.5" y2="137.4" stroke="#555" stroke-width="0.6"/>
<line x1="279.6" y1="136.6" x2="279.6" y2="137.4" stroke="#555" stroke-width="0.6"/>
<line x1="281.3" y1="136.6" x2="281.3" y2="137.4" stroke="#555" stroke-width="0.6"/>
<line x1="282.7" y1="136.6" x2="282.7" y2="137.4" stroke="#555" stroke-width="0.6"/>
<line x1="283.8" y1="136.6" x2="283.8" y2="137.4" stroke="#555" stroke-width="0.6"/>
<line x1="284.8" y1="136.6" x2="284.8" y2="137.4" stroke="#555" stroke-width="0.6"/>
<line x1="285.7" y1="136.6" x2="285.7" y2="137.4" stroke="#555" stroke-width="0.6"/>
<line x1="286.5" y1="136.6" x2="286.5" y2="138.0" stroke="#555" stroke-width="0.6"/>
<line x1="291.7" y1="136.6" x2="291.7" y2="137.4" stroke="#555" stroke-width="0.6"/>
<line x1="294.8" y1="136.6" x2="294.8" y2="137.4" stroke="#555" stroke-width="0.6"/>
<line x1="296.9" y1="136.6" x2="296.9" y2="137.4" stroke="#555" stroke-width="0.6"/>
<line x1="298.6" y1="136.6" x2="298.6" y2="137.4" stroke="#555" stroke-width="0.6"/>
<line x1="300.0" y1="136.6" x2="300.0" y2="137.4" stroke="#555" stroke-width="0.6"/>
<line x1="301.1" y1="136.6" x2="301.1" y2="137.4" stroke="#555" stroke-width="0.6"/>
<line x1="302.1" y1="136.6" x2="302.1" y2="137.4" stroke="#555" stroke-width="0.6"/>
<line x1="303.0" y1="136.6" x2="303.0" y2="137.4" stroke="#555" stroke-width="0.6"/>
<line x1="303.8" y1="136.6" x2="303.8" y2="138.0" stroke="#555" stroke-width="0.6"/>
<line x1="309.0" y1="136.6" x2="309.0" y2="137.4" stroke="#555" stroke-width="0.6"/>
<line x1="312.1" y1="136.6" x2="312.1" y2="137.4" stroke="#555" stroke-width="0.6"/>
<line x1="314.2" y1="136.6" x2="314.2" y2="137.4" stroke="#555" stroke-width="0.6"/>
<line x1="315.9" y1="136.6" x2="315.9" y2="137.4" stroke="#555" stroke-width="0.6"/>
<line x1="317.3" y1="136.6" x2="317.3" y2="137.4" stroke="#555" stroke-width="0.6"/>
<line x1="318.4" y1="136.6" x2="318.4" y2="137.4" stroke="#555" stroke-width="0.6"/>
<line x1="319.4" y1="136.6" x2="319.4" y2="137.4" stroke="#555" stroke-width="0.6"/>
<line x1="320.3" y1="136.6" x2="320.3" y2="137.4" stroke="#555" stroke-width="0.6"/>
<line x1="321.1" y1="136.6" x2="321.1" y2="138.0" stroke="#555" stroke-width="0.6"/>
<line x1="326.3" y1="136.6" x2="326.3" y2="137.4" stroke="#555" stroke-width="0.6"/>
<line x1="329.4" y1="136.6" x2="329.4" y2="137.4" stroke="#555" stroke-width="0.6"/>
<line x1="331.5" y1="136.6" x2="331.5" y2="137.4" stroke="#555" stroke-width="0.6"/>
<line x1="333.2" y1="136.6" x2="333.2" y2="137.4" stroke="#555" stroke-width="0.6"/>
<line x1="334.6" y1="136.6" x2="334.6" y2="137.4" stroke="#555" stroke-width="0.6"/>
<line x1="335.7" y1="136.6" x2="335.7" y2="137.4" stroke="#555" stroke-width="0.6"/>
<line x1="336.7" y1="136.6" x2="336.7" y2="137.4" stroke="#555" stroke-width="0.6"/>
<line x1="337.6" y1="136.6" x2="337.6" y2="137.4" stroke="#555" stroke-width="0.6"/>
<text x="273.2" y="110.8" text-anchor="start" class="lb">CD9</text>
<polygon points="200.0,177.6 200.0,177.2 205.0,176.8 210.0,176.2 215.0,175.7 218.0,173.5 220.0,169.0 221.5,161.5 223.0,156.2 225.0,152.5 226.0,151.7 227.5,155.5 229.0,163.0 230.0,170.5 232.0,175.3 236.0,177.1 236.0,177.6" fill="#d1d1d1" stroke="#555" stroke-width="0.7"/>
<polyline points="183.2,173.5 183.6,177.4 200.0,177.3 205.0,175.7 210.0,174.2 215.0,173.5 220.0,172.0 224.0,169.7 227.0,166.0 229.0,161.5 231.0,157.0 233.0,154.7 234.5,153.7 235.5,157.0 237.2,161.5 239.7,167.4 242.2,171.6 244.7,174.9 247.2,176.9 250.0,177.4 253.2,177.4" fill="none" stroke="#111" stroke-width="1.6" stroke-linejoin="round"/>
<path d="M182.7,144.4H253.2V177.6" fill="none" stroke="#8c8c8c" stroke-width="1"/>
<path d="M182.7,144.4V177.6H253.2" fill="none" stroke="#111" stroke-width="1.3"/>
<line x1="181.2" y1="146.1" x2="182.7" y2="146.1" stroke="#444" stroke-width="0.8"/>
<line x1="181.2" y1="152.5" x2="182.7" y2="152.5" stroke="#444" stroke-width="0.8"/>
<line x1="181.2" y1="159.0" x2="182.7" y2="159.0" stroke="#444" stroke-width="0.8"/>
<line x1="181.2" y1="165.5" x2="182.7" y2="165.5" stroke="#444" stroke-width="0.8"/>
<line x1="181.2" y1="172.0" x2="182.7" y2="172.0" stroke="#444" stroke-width="0.8"/>
<line x1="182.7" y1="177.6" x2="182.7" y2="179.0" stroke="#555" stroke-width="0.6"/>
<line x1="188.0" y1="177.6" x2="188.0" y2="178.4" stroke="#555" stroke-width="0.6"/>
<line x1="191.1" y1="177.6" x2="191.1" y2="178.4" stroke="#555" stroke-width="0.6"/>
<line x1="193.3" y1="177.6" x2="193.3" y2="178.4" stroke="#555" stroke-width="0.6"/>
<line x1="195.0" y1="177.6" x2="195.0" y2="178.4" stroke="#555" stroke-width="0.6"/>
<line x1="196.4" y1="177.6" x2="196.4" y2="178.4" stroke="#555" stroke-width="0.6"/>
<line x1="197.6" y1="177.6" x2="197.6" y2="178.4" stroke="#555" stroke-width="0.6"/>
<line x1="198.6" y1="177.6" x2="198.6" y2="178.4" stroke="#555" stroke-width="0.6"/>
<line x1="199.5" y1="177.6" x2="199.5" y2="178.4" stroke="#555" stroke-width="0.6"/>
<line x1="200.3" y1="177.6" x2="200.3" y2="179.0" stroke="#555" stroke-width="0.6"/>
<line x1="205.6" y1="177.6" x2="205.6" y2="178.4" stroke="#555" stroke-width="0.6"/>
<line x1="208.7" y1="177.6" x2="208.7" y2="178.4" stroke="#555" stroke-width="0.6"/>
<line x1="210.9" y1="177.6" x2="210.9" y2="178.4" stroke="#555" stroke-width="0.6"/>
<line x1="212.6" y1="177.6" x2="212.6" y2="178.4" stroke="#555" stroke-width="0.6"/>
<line x1="214.0" y1="177.6" x2="214.0" y2="178.4" stroke="#555" stroke-width="0.6"/>
<line x1="215.2" y1="177.6" x2="215.2" y2="178.4" stroke="#555" stroke-width="0.6"/>
<line x1="216.2" y1="177.6" x2="216.2" y2="178.4" stroke="#555" stroke-width="0.6"/>
<line x1="217.1" y1="177.6" x2="217.1" y2="178.4" stroke="#555" stroke-width="0.6"/>
<line x1="217.9" y1="177.6" x2="217.9" y2="179.0" stroke="#555" stroke-width="0.6"/>
<line x1="223.3" y1="177.6" x2="223.3" y2="178.4" stroke="#555" stroke-width="0.6"/>
<line x1="226.4" y1="177.6" x2="226.4" y2="178.4" stroke="#555" stroke-width="0.6"/>
<line x1="228.6" y1="177.6" x2="228.6" y2="178.4" stroke="#555" stroke-width="0.6"/>
<line x1="230.3" y1="177.6" x2="230.3" y2="178.4" stroke="#555" stroke-width="0.6"/>
<line x1="231.7" y1="177.6" x2="231.7" y2="178.4" stroke="#555" stroke-width="0.6"/>
<line x1="232.8" y1="177.6" x2="232.8" y2="178.4" stroke="#555" stroke-width="0.6"/>
<line x1="233.9" y1="177.6" x2="233.9" y2="178.4" stroke="#555" stroke-width="0.6"/>
<line x1="234.8" y1="177.6" x2="234.8" y2="178.4" stroke="#555" stroke-width="0.6"/>
<line x1="235.6" y1="177.6" x2="235.6" y2="179.0" stroke="#555" stroke-width="0.6"/>
<line x1="240.9" y1="177.6" x2="240.9" y2="178.4" stroke="#555" stroke-width="0.6"/>
<line x1="244.0" y1="177.6" x2="244.0" y2="178.4" stroke="#555" stroke-width="0.6"/>
<line x1="246.2" y1="177.6" x2="246.2" y2="178.4" stroke="#555" stroke-width="0.6"/>
<line x1="247.9" y1="177.6" x2="247.9" y2="178.4" stroke="#555" stroke-width="0.6"/>
<line x1="249.3" y1="177.6" x2="249.3" y2="178.4" stroke="#555" stroke-width="0.6"/>
<line x1="250.5" y1="177.6" x2="250.5" y2="178.4" stroke="#555" stroke-width="0.6"/>
<line x1="251.5" y1="177.6" x2="251.5" y2="178.4" stroke="#555" stroke-width="0.6"/>
<line x1="252.4" y1="177.6" x2="252.4" y2="178.4" stroke="#555" stroke-width="0.6"/>
<text x="252.5" y="150.8" text-anchor="end" class="lb">CD44</text>
<polygon points="300.0,178.2 300.0,178.0 305.0,176.8 308.0,175.3 310.0,172.0 312.0,166.0 313.0,158.5 314.0,151.0 315.0,148.7 316.0,154.0 318.0,163.0 320.0,171.2 323.0,175.7 327.0,177.8 327.0,178.2" fill="#d1d1d1" stroke="#555" stroke-width="0.7"/>
<polyline points="269.2,178.0 295.0,178.0 300.0,176.2 305.0,175.0 309.0,172.7 312.0,169.0 313.5,163.0 315.0,157.0 315.2,152.5 316.3,151.7 317.3,154.0 318.2,157.0 320.5,164.5 322.7,170.5 325.0,174.2 328.0,176.2 332.5,177.3 338.0,177.8 340.4,178.0" fill="none" stroke="#111" stroke-width="1.6" stroke-linejoin="round"/>
<path d="M269.2,144.2H340.4V178.2" fill="none" stroke="#8c8c8c" stroke-width="1"/>
<path d="M269.2,144.2V178.2H340.4" fill="none" stroke="#111" stroke-width="1.3"/>
<line x1="267.7" y1="145.9" x2="269.2" y2="145.9" stroke="#444" stroke-width="0.8"/>
<line x1="267.7" y1="152.5" x2="269.2" y2="152.5" stroke="#444" stroke-width="0.8"/>
<line x1="267.7" y1="159.2" x2="269.2" y2="159.2" stroke="#444" stroke-width="0.8"/>
<line x1="267.7" y1="165.8" x2="269.2" y2="165.8" stroke="#444" stroke-width="0.8"/>
<line x1="267.7" y1="172.4" x2="269.2" y2="172.4" stroke="#444" stroke-width="0.8"/>
<line x1="269.2" y1="178.2" x2="269.2" y2="179.6" stroke="#555" stroke-width="0.6"/>
<line x1="274.6" y1="178.2" x2="274.6" y2="179.0" stroke="#555" stroke-width="0.6"/>
<line x1="277.7" y1="178.2" x2="277.7" y2="179.0" stroke="#555" stroke-width="0.6"/>
<line x1="279.9" y1="178.2" x2="279.9" y2="179.0" stroke="#555" stroke-width="0.6"/>
<line x1="281.6" y1="178.2" x2="281.6" y2="179.0" stroke="#555" stroke-width="0.6"/>
<line x1="283.1" y1="178.2" x2="283.1" y2="179.0" stroke="#555" stroke-width="0.6"/>
<line x1="284.2" y1="178.2" x2="284.2" y2="179.0" stroke="#555" stroke-width="0.6"/>
<line x1="285.3" y1="178.2" x2="285.3" y2="179.0" stroke="#555" stroke-width="0.6"/>
<line x1="286.2" y1="178.2" x2="286.2" y2="179.0" stroke="#555" stroke-width="0.6"/>
<line x1="287.0" y1="178.2" x2="287.0" y2="179.6" stroke="#555" stroke-width="0.6"/>
<line x1="292.4" y1="178.2" x2="292.4" y2="179.0" stroke="#555" stroke-width="0.6"/>
<line x1="295.5" y1="178.2" x2="295.5" y2="179.0" stroke="#555" stroke-width="0.6"/>
<line x1="297.7" y1="178.2" x2="297.7" y2="179.0" stroke="#555" stroke-width="0.6"/>
<line x1="299.4" y1="178.2" x2="299.4" y2="179.0" stroke="#555" stroke-width="0.6"/>
<line x1="300.9" y1="178.2" x2="300.9" y2="179.0" stroke="#555" stroke-width="0.6"/>
<line x1="302.0" y1="178.2" x2="302.0" y2="179.0" stroke="#555" stroke-width="0.6"/>
<line x1="303.1" y1="178.2" x2="303.1" y2="179.0" stroke="#555" stroke-width="0.6"/>
<line x1="304.0" y1="178.2" x2="304.0" y2="179.0" stroke="#555" stroke-width="0.6"/>
<line x1="304.8" y1="178.2" x2="304.8" y2="179.6" stroke="#555" stroke-width="0.6"/>
<line x1="310.2" y1="178.2" x2="310.2" y2="179.0" stroke="#555" stroke-width="0.6"/>
<line x1="313.3" y1="178.2" x2="313.3" y2="179.0" stroke="#555" stroke-width="0.6"/>
<line x1="315.5" y1="178.2" x2="315.5" y2="179.0" stroke="#555" stroke-width="0.6"/>
<line x1="317.2" y1="178.2" x2="317.2" y2="179.0" stroke="#555" stroke-width="0.6"/>
<line x1="318.7" y1="178.2" x2="318.7" y2="179.0" stroke="#555" stroke-width="0.6"/>
<line x1="319.8" y1="178.2" x2="319.8" y2="179.0" stroke="#555" stroke-width="0.6"/>
<line x1="320.9" y1="178.2" x2="320.9" y2="179.0" stroke="#555" stroke-width="0.6"/>
<line x1="321.8" y1="178.2" x2="321.8" y2="179.0" stroke="#555" stroke-width="0.6"/>
<line x1="322.6" y1="178.2" x2="322.6" y2="179.6" stroke="#555" stroke-width="0.6"/>
<line x1="328.0" y1="178.2" x2="328.0" y2="179.0" stroke="#555" stroke-width="0.6"/>
<line x1="331.1" y1="178.2" x2="331.1" y2="179.0" stroke="#555" stroke-width="0.6"/>
<line x1="333.3" y1="178.2" x2="333.3" y2="179.0" stroke="#555" stroke-width="0.6"/>
<line x1="335.0" y1="178.2" x2="335.0" y2="179.0" stroke="#555" stroke-width="0.6"/>
<line x1="336.5" y1="178.2" x2="336.5" y2="179.0" stroke="#555" stroke-width="0.6"/>
<line x1="337.6" y1="178.2" x2="337.6" y2="179.0" stroke="#555" stroke-width="0.6"/>
<line x1="338.7" y1="178.2" x2="338.7" y2="179.0" stroke="#555" stroke-width="0.6"/>
<line x1="339.6" y1="178.2" x2="339.6" y2="179.0" stroke="#555" stroke-width="0.6"/>
<text x="273.2" y="151" text-anchor="start" class="lb">CD44</text>
<polygon points="204.2,219.2 204.2,219.0 206.2,217.7 209.2,215.7 211.2,211.2 213.2,203.0 215.2,196.2 216.7,193.2 218.2,192.5 219.7,194.0 221.2,200.0 222.7,207.5 224.7,212.7 227.2,215.7 231.2,217.2 236.2,218.8 236.2,219.2" fill="#d1d1d1" stroke="#555" stroke-width="0.7"/>
<polyline points="183.2,214.2 183.6,219.0 205.0,219.0 210.0,217.2 214.0,216.5 218.0,215.7 221.0,213.5 222.0,209.7 223.7,203.5 225.5,197.5 226.8,194.5 227.8,193.6 229.3,196.2 231.0,202.0 233.0,207.5 235.2,212.0 237.5,215.3 240.0,217.2 244.0,218.8 253.2,219.0" fill="none" stroke="#111" stroke-width="1.6" stroke-linejoin="round"/>
<path d="M182.7,185.5H253.2V219.2" fill="none" stroke="#8c8c8c" stroke-width="1"/>
<path d="M182.7,185.5V219.2H253.2" fill="none" stroke="#111" stroke-width="1.3"/>
<line x1="181.2" y1="187.2" x2="182.7" y2="187.2" stroke="#444" stroke-width="0.8"/>
<line x1="181.2" y1="193.8" x2="182.7" y2="193.8" stroke="#444" stroke-width="0.8"/>
<line x1="181.2" y1="200.3" x2="182.7" y2="200.3" stroke="#444" stroke-width="0.8"/>
<line x1="181.2" y1="206.9" x2="182.7" y2="206.9" stroke="#444" stroke-width="0.8"/>
<line x1="181.2" y1="213.5" x2="182.7" y2="213.5" stroke="#444" stroke-width="0.8"/>
<line x1="182.7" y1="219.2" x2="182.7" y2="220.6" stroke="#555" stroke-width="0.6"/>
<line x1="188.0" y1="219.2" x2="188.0" y2="220.0" stroke="#555" stroke-width="0.6"/>
<line x1="191.1" y1="219.2" x2="191.1" y2="220.0" stroke="#555" stroke-width="0.6"/>
<line x1="193.3" y1="219.2" x2="193.3" y2="220.0" stroke="#555" stroke-width="0.6"/>
<line x1="195.0" y1="219.2" x2="195.0" y2="220.0" stroke="#555" stroke-width="0.6"/>
<line x1="196.4" y1="219.2" x2="196.4" y2="220.0" stroke="#555" stroke-width="0.6"/>
<line x1="197.6" y1="219.2" x2="197.6" y2="220.0" stroke="#555" stroke-width="0.6"/>
<line x1="198.6" y1="219.2" x2="198.6" y2="220.0" stroke="#555" stroke-width="0.6"/>
<line x1="199.5" y1="219.2" x2="199.5" y2="220.0" stroke="#555" stroke-width="0.6"/>
<line x1="200.3" y1="219.2" x2="200.3" y2="220.6" stroke="#555" stroke-width="0.6"/>
<line x1="205.6" y1="219.2" x2="205.6" y2="220.0" stroke="#555" stroke-width="0.6"/>
<line x1="208.7" y1="219.2" x2="208.7" y2="220.0" stroke="#555" stroke-width="0.6"/>
<line x1="210.9" y1="219.2" x2="210.9" y2="220.0" stroke="#555" stroke-width="0.6"/>
<line x1="212.6" y1="219.2" x2="212.6" y2="220.0" stroke="#555" stroke-width="0.6"/>
<line x1="214.0" y1="219.2" x2="214.0" y2="220.0" stroke="#555" stroke-width="0.6"/>
<line x1="215.2" y1="219.2" x2="215.2" y2="220.0" stroke="#555" stroke-width="0.6"/>
<line x1="216.2" y1="219.2" x2="216.2" y2="220.0" stroke="#555" stroke-width="0.6"/>
<line x1="217.1" y1="219.2" x2="217.1" y2="220.0" stroke="#555" stroke-width="0.6"/>
<line x1="217.9" y1="219.2" x2="217.9" y2="220.6" stroke="#555" stroke-width="0.6"/>
<line x1="223.3" y1="219.2" x2="223.3" y2="220.0" stroke="#555" stroke-width="0.6"/>
<line x1="226.4" y1="219.2" x2="226.4" y2="220.0" stroke="#555" stroke-width="0.6"/>
<line x1="228.6" y1="219.2" x2="228.6" y2="220.0" stroke="#555" stroke-width="0.6"/>
<line x1="230.3" y1="219.2" x2="230.3" y2="220.0" stroke="#555" stroke-width="0.6"/>
<line x1="231.7" y1="219.2" x2="231.7" y2="220.0" stroke="#555" stroke-width="0.6"/>
<line x1="232.8" y1="219.2" x2="232.8" y2="220.0" stroke="#555" stroke-width="0.6"/>
<line x1="233.9" y1="219.2" x2="233.9" y2="220.0" stroke="#555" stroke-width="0.6"/>
<line x1="234.8" y1="219.2" x2="234.8" y2="220.0" stroke="#555" stroke-width="0.6"/>
<line x1="235.6" y1="219.2" x2="235.6" y2="220.6" stroke="#555" stroke-width="0.6"/>
<line x1="240.9" y1="219.2" x2="240.9" y2="220.0" stroke="#555" stroke-width="0.6"/>
<line x1="244.0" y1="219.2" x2="244.0" y2="220.0" stroke="#555" stroke-width="0.6"/>
<line x1="246.2" y1="219.2" x2="246.2" y2="220.0" stroke="#555" stroke-width="0.6"/>
<line x1="247.9" y1="219.2" x2="247.9" y2="220.0" stroke="#555" stroke-width="0.6"/>
<line x1="249.3" y1="219.2" x2="249.3" y2="220.0" stroke="#555" stroke-width="0.6"/>
<line x1="250.5" y1="219.2" x2="250.5" y2="220.0" stroke="#555" stroke-width="0.6"/>
<line x1="251.5" y1="219.2" x2="251.5" y2="220.0" stroke="#555" stroke-width="0.6"/>
<line x1="252.4" y1="219.2" x2="252.4" y2="220.0" stroke="#555" stroke-width="0.6"/>
<text x="253" y="191.3" text-anchor="end" class="lb">ICAM-1</text>
<polygon points="295.5,220.0 295.5,219.8 297.5,217.8 300.5,215.5 301.5,213.2 302.5,210.5 303.5,207.1 304.5,203.0 305.5,200.0 306.5,197.0 307.5,195.0 308.5,193.0 309.5,194.5 310.5,196.2 311.5,197.3 312.5,197.0 313.5,199.0 314.5,201.5 315.5,202.9 316.5,205.2 317.5,206.1 318.5,207.4 319.5,209.0 320.5,209.5 321.5,210.1 322.5,211.2 323.5,211.4 324.5,212.5 325.5,213.5 328.5,216.5 331.5,219.5 331.5,220.0" fill="#d1d1d1" stroke="#555" stroke-width="0.7"/>
<polyline points="269.6,212.7 270.0,219.6 290.0,219.6 295.0,218.0 300.0,217.0 305.0,215.5 308.5,213.0 310.5,209.5 312.3,205.5 314.0,201.0 315.6,196.0 317.0,192.5 318.6,190.3 320.2,192.0 321.8,190.8 323.3,191.5 324.6,192.6 326.0,195.0 327.3,196.2 328.4,197.5 329.6,202.0 330.6,207.5 331.7,212.5 333.2,216.5 335.0,218.8 341.0,219.6" fill="none" stroke="#111" stroke-width="1.6" stroke-linejoin="round"/>
<path d="M269.2,186.3H341.0V220.0" fill="none" stroke="#8c8c8c" stroke-width="1"/>
<path d="M269.2,186.3V220.0H341.0" fill="none" stroke="#111" stroke-width="1.3"/>
<line x1="267.7" y1="188.0" x2="269.2" y2="188.0" stroke="#444" stroke-width="0.8"/>
<line x1="267.7" y1="194.6" x2="269.2" y2="194.6" stroke="#444" stroke-width="0.8"/>
<line x1="267.7" y1="201.1" x2="269.2" y2="201.1" stroke="#444" stroke-width="0.8"/>
<line x1="267.7" y1="207.7" x2="269.2" y2="207.7" stroke="#444" stroke-width="0.8"/>
<line x1="267.7" y1="214.3" x2="269.2" y2="214.3" stroke="#444" stroke-width="0.8"/>
<line x1="269.2" y1="220.0" x2="269.2" y2="221.4" stroke="#555" stroke-width="0.6"/>
<line x1="274.6" y1="220.0" x2="274.6" y2="220.8" stroke="#555" stroke-width="0.6"/>
<line x1="277.8" y1="220.0" x2="277.8" y2="220.8" stroke="#555" stroke-width="0.6"/>
<line x1="280.0" y1="220.0" x2="280.0" y2="220.8" stroke="#555" stroke-width="0.6"/>
<line x1="281.7" y1="220.0" x2="281.7" y2="220.8" stroke="#555" stroke-width="0.6"/>
<line x1="283.2" y1="220.0" x2="283.2" y2="220.8" stroke="#555" stroke-width="0.6"/>
<line x1="284.4" y1="220.0" x2="284.4" y2="220.8" stroke="#555" stroke-width="0.6"/>
<line x1="285.4" y1="220.0" x2="285.4" y2="220.8" stroke="#555" stroke-width="0.6"/>
<line x1="286.3" y1="220.0" x2="286.3" y2="220.8" stroke="#555" stroke-width="0.6"/>
<line x1="287.1" y1="220.0" x2="287.1" y2="221.4" stroke="#555" stroke-width="0.6"/>
<line x1="292.6" y1="220.0" x2="292.6" y2="220.8" stroke="#555" stroke-width="0.6"/>
<line x1="295.7" y1="220.0" x2="295.7" y2="220.8" stroke="#555" stroke-width="0.6"/>
<line x1="298.0" y1="220.0" x2="298.0" y2="220.8" stroke="#555" stroke-width="0.6"/>
<line x1="299.7" y1="220.0" x2="299.7" y2="220.8" stroke="#555" stroke-width="0.6"/>
<line x1="301.1" y1="220.0" x2="301.1" y2="220.8" stroke="#555" stroke-width="0.6"/>
<line x1="302.3" y1="220.0" x2="302.3" y2="220.8" stroke="#555" stroke-width="0.6"/>
<line x1="303.4" y1="220.0" x2="303.4" y2="220.8" stroke="#555" stroke-width="0.6"/>
<line x1="304.3" y1="220.0" x2="304.3" y2="220.8" stroke="#555" stroke-width="0.6"/>
<line x1="305.1" y1="220.0" x2="305.1" y2="221.4" stroke="#555" stroke-width="0.6"/>
<line x1="310.5" y1="220.0" x2="310.5" y2="220.8" stroke="#555" stroke-width="0.6"/>
<line x1="313.7" y1="220.0" x2="313.7" y2="220.8" stroke="#555" stroke-width="0.6"/>
<line x1="315.9" y1="220.0" x2="315.9" y2="220.8" stroke="#555" stroke-width="0.6"/>
<line x1="317.6" y1="220.0" x2="317.6" y2="220.8" stroke="#555" stroke-width="0.6"/>
<line x1="319.1" y1="220.0" x2="319.1" y2="220.8" stroke="#555" stroke-width="0.6"/>
<line x1="320.3" y1="220.0" x2="320.3" y2="220.8" stroke="#555" stroke-width="0.6"/>
<line x1="321.3" y1="220.0" x2="321.3" y2="220.8" stroke="#555" stroke-width="0.6"/>
<line x1="322.2" y1="220.0" x2="322.2" y2="220.8" stroke="#555" stroke-width="0.6"/>
<line x1="323.1" y1="220.0" x2="323.1" y2="221.4" stroke="#555" stroke-width="0.6"/>
<line x1="328.5" y1="220.0" x2="328.5" y2="220.8" stroke="#555" stroke-width="0.6"/>
<line x1="331.6" y1="220.0" x2="331.6" y2="220.8" stroke="#555" stroke-width="0.6"/>
<line x1="333.9" y1="220.0" x2="333.9" y2="220.8" stroke="#555" stroke-width="0.6"/>
<line x1="335.6" y1="220.0" x2="335.6" y2="220.8" stroke="#555" stroke-width="0.6"/>
<line x1="337.0" y1="220.0" x2="337.0" y2="220.8" stroke="#555" stroke-width="0.6"/>
<line x1="338.2" y1="220.0" x2="338.2" y2="220.8" stroke="#555" stroke-width="0.6"/>
<line x1="339.3" y1="220.0" x2="339.3" y2="220.8" stroke="#555" stroke-width="0.6"/>
<line x1="340.2" y1="220.0" x2="340.2" y2="220.8" stroke="#555" stroke-width="0.6"/>
<text x="272.8" y="192.5" text-anchor="start" class="lb">ICAM-1</text>
<polygon points="186.0,262.0 186.0,261.8 188.0,260.2 192.0,256.5 195.0,253.5 196.0,252.4 197.0,251.6 198.0,250.5 199.0,250.0 200.0,247.9 201.0,246.7 202.0,246.0 203.0,245.2 204.0,244.6 205.0,243.7 206.0,242.0 207.0,241.5 208.0,241.1 209.0,240.7 210.0,240.2 211.0,239.2 212.0,238.6 213.0,237.0 214.5,235.5 216.0,238.5 217.5,243.0 219.0,248.2 220.0,249.4 221.0,252.0 222.0,253.1 223.0,255.0 224.0,255.8 225.0,258.0 226.0,259.2 227.0,259.5 228.0,259.8 232.0,261.5 232.0,262.0" fill="#d1d1d1" stroke="#555" stroke-width="0.7"/>
<polyline points="184.0,261.5 186.0,258.0 187.0,255.0 188.0,252.0 189.0,249.3 190.0,246.0 191.0,243.3 192.0,240.0 193.0,237.5 194.0,236.2 195.0,234.3 196.0,234.0 197.0,231.7 198.5,234.7 200.0,236.2 201.0,238.6 202.0,241.5 203.0,243.4 204.0,246.0 205.0,248.3 206.0,249.7 207.0,250.8 208.0,251.2 209.0,252.1 210.0,252.7 211.0,253.2 212.0,253.5 213.0,254.5 214.0,255.0 215.0,255.2 216.0,256.5 217.0,257.2 218.0,258.0 219.0,257.9 220.0,259.4 221.0,259.2 222.0,258.9 223.0,260.6 224.0,259.9 225.0,261.0 240.0,261.6 253.2,261.6" fill="none" stroke="#111" stroke-width="1.6" stroke-linejoin="round"/>
<path d="M183.7,228.0H253.2V262.0" fill="none" stroke="#8c8c8c" stroke-width="1"/>
<path d="M183.7,228.0V262.0H253.2" fill="none" stroke="#111" stroke-width="1.3"/>
<line x1="182.2" y1="229.7" x2="183.7" y2="229.7" stroke="#444" stroke-width="0.8"/>
<line x1="182.2" y1="236.3" x2="183.7" y2="236.3" stroke="#444" stroke-width="0.8"/>
<line x1="182.2" y1="243.0" x2="183.7" y2="243.0" stroke="#444" stroke-width="0.8"/>
<line x1="182.2" y1="249.6" x2="183.7" y2="249.6" stroke="#444" stroke-width="0.8"/>
<line x1="182.2" y1="256.2" x2="183.7" y2="256.2" stroke="#444" stroke-width="0.8"/>
<line x1="183.7" y1="262.0" x2="183.7" y2="263.4" stroke="#555" stroke-width="0.6"/>
<line x1="188.9" y1="262.0" x2="188.9" y2="262.8" stroke="#555" stroke-width="0.6"/>
<line x1="192.0" y1="262.0" x2="192.0" y2="262.8" stroke="#555" stroke-width="0.6"/>
<line x1="194.2" y1="262.0" x2="194.2" y2="262.8" stroke="#555" stroke-width="0.6"/>
<line x1="195.8" y1="262.0" x2="195.8" y2="262.8" stroke="#555" stroke-width="0.6"/>
<line x1="197.2" y1="262.0" x2="197.2" y2="262.8" stroke="#555" stroke-width="0.6"/>
<line x1="198.4" y1="262.0" x2="198.4" y2="262.8" stroke="#555" stroke-width="0.6"/>
<line x1="199.4" y1="262.0" x2="199.4" y2="262.8" stroke="#555" stroke-width="0.6"/>
<line x1="200.3" y1="262.0" x2="200.3" y2="262.8" stroke="#555" stroke-width="0.6"/>
<line x1="201.1" y1="262.0" x2="201.1" y2="263.4" stroke="#555" stroke-width="0.6"/>
<line x1="206.3" y1="262.0" x2="206.3" y2="262.8" stroke="#555" stroke-width="0.6"/>
<line x1="209.4" y1="262.0" x2="209.4" y2="262.8" stroke="#555" stroke-width="0.6"/>
<line x1="211.5" y1="262.0" x2="211.5" y2="262.8" stroke="#555" stroke-width="0.6"/>
<line x1="213.2" y1="262.0" x2="213.2" y2="262.8" stroke="#555" stroke-width="0.6"/>
<line x1="214.6" y1="262.0" x2="214.6" y2="262.8" stroke="#555" stroke-width="0.6"/>
<line x1="215.8" y1="262.0" x2="215.8" y2="262.8" stroke="#555" stroke-width="0.6"/>
<line x1="216.8" y1="262.0" x2="216.8" y2="262.8" stroke="#555" stroke-width="0.6"/>
<line x1="217.7" y1="262.0" x2="217.7" y2="262.8" stroke="#555" stroke-width="0.6"/>
<line x1="218.4" y1="262.0" x2="218.4" y2="263.4" stroke="#555" stroke-width="0.6"/>
<line x1="223.7" y1="262.0" x2="223.7" y2="262.8" stroke="#555" stroke-width="0.6"/>
<line x1="226.7" y1="262.0" x2="226.7" y2="262.8" stroke="#555" stroke-width="0.6"/>
<line x1="228.9" y1="262.0" x2="228.9" y2="262.8" stroke="#555" stroke-width="0.6"/>
<line x1="230.6" y1="262.0" x2="230.6" y2="262.8" stroke="#555" stroke-width="0.6"/>
<line x1="232.0" y1="262.0" x2="232.0" y2="262.8" stroke="#555" stroke-width="0.6"/>
<line x1="233.1" y1="262.0" x2="233.1" y2="262.8" stroke="#555" stroke-width="0.6"/>
<line x1="234.1" y1="262.0" x2="234.1" y2="262.8" stroke="#555" stroke-width="0.6"/>
<line x1="235.0" y1="262.0" x2="235.0" y2="262.8" stroke="#555" stroke-width="0.6"/>
<line x1="235.8" y1="262.0" x2="235.8" y2="263.4" stroke="#555" stroke-width="0.6"/>
<line x1="241.1" y1="262.0" x2="241.1" y2="262.8" stroke="#555" stroke-width="0.6"/>
<line x1="244.1" y1="262.0" x2="244.1" y2="262.8" stroke="#555" stroke-width="0.6"/>
<line x1="246.3" y1="262.0" x2="246.3" y2="262.8" stroke="#555" stroke-width="0.6"/>
<line x1="248.0" y1="262.0" x2="248.0" y2="262.8" stroke="#555" stroke-width="0.6"/>
<line x1="249.3" y1="262.0" x2="249.3" y2="262.8" stroke="#555" stroke-width="0.6"/>
<line x1="250.5" y1="262.0" x2="250.5" y2="262.8" stroke="#555" stroke-width="0.6"/>
<line x1="251.5" y1="262.0" x2="251.5" y2="262.8" stroke="#555" stroke-width="0.6"/>
<line x1="252.4" y1="262.0" x2="252.4" y2="262.8" stroke="#555" stroke-width="0.6"/>
<text x="252.5" y="234.5" text-anchor="end" class="lb">CD62L</text>
<polygon points="270.0,261.5 270.0,261.3 271.0,258.8 273.0,249.6 274.0,246.4 275.0,244.0 276.0,242.5 277.0,240.4 278.0,238.8 279.0,236.7 280.0,239.1 281.0,240.4 282.0,241.2 283.0,243.1 284.0,242.2 285.0,242.2 286.0,244.4 287.0,247.7 288.0,248.7 289.0,250.5 290.0,251.5 291.0,251.1 292.0,252.3 293.0,253.0 294.0,253.1 295.0,254.2 296.0,254.5 297.0,255.3 298.0,256.0 299.0,257.5 300.0,258.0 301.0,258.8 305.0,260.6 310.0,261.3 310.0,261.5" fill="#d1d1d1" stroke="#555" stroke-width="0.7"/>
<polyline points="271.0,256.0 273.0,245.0 275.0,237.0 276.0,234.9 278.0,238.0 280.0,242.0 285.0,245.0 288.0,247.7 292.0,249.6 294.0,249.0 296.0,251.4 300.0,256.0 304.0,259.7 308.0,261.0" fill="none" stroke="#444" stroke-width="0.8"/>
<polyline points="270.0,253.2 271.0,258.8 273.0,249.6 275.0,240.4 277.0,236.7 279.0,235.2 281.0,238.5 283.0,240.4 285.0,243.1 287.0,248.7 289.0,253.2 291.0,256.0 294.0,257.8 298.0,258.8 303.0,260.2 310.0,261.0 320.0,261.3 341.5,261.3" fill="none" stroke="#111" stroke-width="1.6" stroke-linejoin="round"/>
<path d="M269.7,228.2H341.5V261.5" fill="none" stroke="#8c8c8c" stroke-width="1"/>
<path d="M269.7,228.2V261.5H341.5" fill="none" stroke="#111" stroke-width="1.3"/>
<line x1="268.2" y1="229.9" x2="269.7" y2="229.9" stroke="#444" stroke-width="0.8"/>
<line x1="268.2" y1="236.4" x2="269.7" y2="236.4" stroke="#444" stroke-width="0.8"/>
<line x1="268.2" y1="242.9" x2="269.7" y2="242.9" stroke="#444" stroke-width="0.8"/>
<line x1="268.2" y1="249.3" x2="269.7" y2="249.3" stroke="#444" stroke-width="0.8"/>
<line x1="268.2" y1="255.8" x2="269.7" y2="255.8" stroke="#444" stroke-width="0.8"/>
<line x1="269.7" y1="261.5" x2="269.7" y2="262.9" stroke="#555" stroke-width="0.6"/>
<line x1="275.1" y1="261.5" x2="275.1" y2="262.3" stroke="#555" stroke-width="0.6"/>
<line x1="278.3" y1="261.5" x2="278.3" y2="262.3" stroke="#555" stroke-width="0.6"/>
<line x1="280.5" y1="261.5" x2="280.5" y2="262.3" stroke="#555" stroke-width="0.6"/>
<line x1="282.2" y1="261.5" x2="282.2" y2="262.3" stroke="#555" stroke-width="0.6"/>
<line x1="283.7" y1="261.5" x2="283.7" y2="262.3" stroke="#555" stroke-width="0.6"/>
<line x1="284.9" y1="261.5" x2="284.9" y2="262.3" stroke="#555" stroke-width="0.6"/>
<line x1="285.9" y1="261.5" x2="285.9" y2="262.3" stroke="#555" stroke-width="0.6"/>
<line x1="286.8" y1="261.5" x2="286.8" y2="262.3" stroke="#555" stroke-width="0.6"/>
<line x1="287.6" y1="261.5" x2="287.6" y2="262.9" stroke="#555" stroke-width="0.6"/>
<line x1="293.1" y1="261.5" x2="293.1" y2="262.3" stroke="#555" stroke-width="0.6"/>
<line x1="296.2" y1="261.5" x2="296.2" y2="262.3" stroke="#555" stroke-width="0.6"/>
<line x1="298.5" y1="261.5" x2="298.5" y2="262.3" stroke="#555" stroke-width="0.6"/>
<line x1="300.2" y1="261.5" x2="300.2" y2="262.3" stroke="#555" stroke-width="0.6"/>
<line x1="301.6" y1="261.5" x2="301.6" y2="262.3" stroke="#555" stroke-width="0.6"/>
<line x1="302.8" y1="261.5" x2="302.8" y2="262.3" stroke="#555" stroke-width="0.6"/>
<line x1="303.9" y1="261.5" x2="303.9" y2="262.3" stroke="#555" stroke-width="0.6"/>
<line x1="304.8" y1="261.5" x2="304.8" y2="262.3" stroke="#555" stroke-width="0.6"/>
<line x1="305.6" y1="261.5" x2="305.6" y2="262.9" stroke="#555" stroke-width="0.6"/>
<line x1="311.0" y1="261.5" x2="311.0" y2="262.3" stroke="#555" stroke-width="0.6"/>
<line x1="314.2" y1="261.5" x2="314.2" y2="262.3" stroke="#555" stroke-width="0.6"/>
<line x1="316.4" y1="261.5" x2="316.4" y2="262.3" stroke="#555" stroke-width="0.6"/>
<line x1="318.1" y1="261.5" x2="318.1" y2="262.3" stroke="#555" stroke-width="0.6"/>
<line x1="319.6" y1="261.5" x2="319.6" y2="262.3" stroke="#555" stroke-width="0.6"/>
<line x1="320.8" y1="261.5" x2="320.8" y2="262.3" stroke="#555" stroke-width="0.6"/>
<line x1="321.8" y1="261.5" x2="321.8" y2="262.3" stroke="#555" stroke-width="0.6"/>
<line x1="322.7" y1="261.5" x2="322.7" y2="262.3" stroke="#555" stroke-width="0.6"/>
<line x1="323.6" y1="261.5" x2="323.6" y2="262.9" stroke="#555" stroke-width="0.6"/>
<line x1="329.0" y1="261.5" x2="329.0" y2="262.3" stroke="#555" stroke-width="0.6"/>
<line x1="332.1" y1="261.5" x2="332.1" y2="262.3" stroke="#555" stroke-width="0.6"/>
<line x1="334.4" y1="261.5" x2="334.4" y2="262.3" stroke="#555" stroke-width="0.6"/>
<line x1="336.1" y1="261.5" x2="336.1" y2="262.3" stroke="#555" stroke-width="0.6"/>
<line x1="337.5" y1="261.5" x2="337.5" y2="262.3" stroke="#555" stroke-width="0.6"/>
<line x1="338.7" y1="261.5" x2="338.7" y2="262.3" stroke="#555" stroke-width="0.6"/>
<line x1="339.8" y1="261.5" x2="339.8" y2="262.3" stroke="#555" stroke-width="0.6"/>
<line x1="340.7" y1="261.5" x2="340.7" y2="262.3" stroke="#555" stroke-width="0.6"/>
<text x="271.2" y="234.5" text-anchor="start" class="lb">CD62L</text>
<text x="3" y="268.3" class="ax">10<tspan dy="-2.3" class="sup">0</tspan></text>
<text x="19.2" y="268.3" class="ax">10<tspan dy="-2.3" class="sup">1</tspan></text>
<text x="35.7" y="268.3" class="ax">10<tspan dy="-2.3" class="sup">2</tspan></text>
<text x="53.8" y="268.3" class="ax">10<tspan dy="-2.3" class="sup">3</tspan></text>
<text x="68.5" y="268.3" class="ax">10<tspan dy="-2.3" class="sup">4</tspan></text>
<text x="89.4" y="268.3" class="ax">10<tspan dy="-2.3" class="sup">0</tspan></text>
<text x="105.5" y="268.3" class="ax">10<tspan dy="-2.3" class="sup">1</tspan></text>
<text x="122.5" y="268.3" class="ax">10<tspan dy="-2.3" class="sup">2</tspan></text>
<text x="140" y="268.3" class="ax">10<tspan dy="-2.3" class="sup">3</tspan></text>
<text x="156.3" y="268.3" class="ax">10<tspan dy="-2.3" class="sup">4</tspan></text>
<text x="180.8" y="270.3" class="ax">10<tspan dy="-2.3" class="sup">0</tspan></text>
<text x="197.8" y="270.3" class="ax">10<tspan dy="-2.3" class="sup">1</tspan></text>
<text x="214" y="270.3" class="ax">10<tspan dy="-2.3" class="sup">2</tspan></text>
<text x="232.5" y="270.3" class="ax">10<tspan dy="-2.3" class="sup">3</tspan></text>
<text x="247.1" y="270.3" class="ax">10<tspan dy="-2.3" class="sup">4</tspan></text>
<text x="266.6" y="270.3" class="ax">10<tspan dy="-2.3" class="sup">0</tspan></text>
<text x="285" y="270.3" class="ax">10<tspan dy="-2.3" class="sup">1</tspan></text>
<text x="301.5" y="270.3" class="ax">10<tspan dy="-2.3" class="sup">2</tspan></text>
<text x="319" y="270.3" class="ax">10<tspan dy="-2.3" class="sup">3</tspan></text>
<text x="334.6" y="270.3" class="ax">10<tspan dy="-2.3" class="sup">4</tspan></text>
<line x1="383.0" y1="152.4" x2="383.0" y2="151.4" stroke="#222" stroke-width="0.8"/>
<line x1="381.6" y1="151.4" x2="384.4" y2="151.4" stroke="#222" stroke-width="0.8"/>
<rect x="380.6" y="152.4" width="4.9" height="20.2" fill="#fff" stroke="#222" stroke-width="0.8"/>
<line x1="394.7" y1="145.9" x2="394.7" y2="143.0" stroke="#222" stroke-width="0.8"/>
<line x1="393.3" y1="143.0" x2="396.1" y2="143.0" stroke="#222" stroke-width="0.8"/>
<rect x="392.3" y="145.9" width="4.9" height="26.7" fill="#fff" stroke="#222" stroke-width="0.8"/>
<line x1="406.4" y1="141.8" x2="406.4" y2="137.7" stroke="#222" stroke-width="0.8"/>
<line x1="405.0" y1="137.7" x2="407.8" y2="137.7" stroke="#222" stroke-width="0.8"/>
<rect x="404.0" y="141.8" width="4.9" height="30.8" fill="#fff" stroke="#222" stroke-width="0.8"/>
<line x1="418.1" y1="133.1" x2="418.1" y2="128.4" stroke="#222" stroke-width="0.8"/>
<line x1="416.7" y1="128.4" x2="419.5" y2="128.4" stroke="#222" stroke-width="0.8"/>
<rect x="415.7" y="133.1" width="4.9" height="39.5" fill="#fff" stroke="#222" stroke-width="0.8"/>
<line x1="429.8" y1="154.8" x2="429.8" y2="151.3" stroke="#222" stroke-width="0.8"/>
<line x1="428.4" y1="151.3" x2="431.2" y2="151.3" stroke="#222" stroke-width="0.8"/>
<rect x="427.4" y="154.8" width="4.9" height="17.8" fill="#000" stroke="#222" stroke-width="0.8"/>
<line x1="441.6" y1="129.7" x2="441.6" y2="122.4" stroke="#222" stroke-width="0.8"/>
<line x1="440.2" y1="122.4" x2="442.9" y2="122.4" stroke="#222" stroke-width="0.8"/>
<rect x="439.1" y="129.7" width="4.9" height="42.9" fill="#000" stroke="#222" stroke-width="0.8"/>
<line x1="453.3" y1="120.1" x2="453.3" y2="113.2" stroke="#222" stroke-width="0.8"/>
<line x1="451.9" y1="113.2" x2="454.7" y2="113.2" stroke="#222" stroke-width="0.8"/>
<rect x="450.8" y="120.1" width="4.9" height="52.5" fill="#000" stroke="#222" stroke-width="0.8"/>
<line x1="465.0" y1="108.8" x2="465.0" y2="99.6" stroke="#222" stroke-width="0.8"/>
<line x1="463.6" y1="99.6" x2="466.4" y2="99.6" stroke="#222" stroke-width="0.8"/>
<rect x="462.5" y="108.8" width="4.9" height="63.8" fill="#000" stroke="#222" stroke-width="0.8"/>
<line x1="476.7" y1="157.9" x2="476.7" y2="156.9" stroke="#222" stroke-width="0.8"/>
<line x1="475.3" y1="156.9" x2="478.1" y2="156.9" stroke="#222" stroke-width="0.8"/>
<rect x="474.2" y="157.9" width="4.9" height="14.7" fill="#bdbdbd" stroke="#222" stroke-width="0.8"/>
<line x1="488.4" y1="134.2" x2="488.4" y2="132.1" stroke="#222" stroke-width="0.8"/>
<line x1="487.0" y1="132.1" x2="489.8" y2="132.1" stroke="#222" stroke-width="0.8"/>
<rect x="485.9" y="134.2" width="4.9" height="38.4" fill="#bdbdbd" stroke="#222" stroke-width="0.8"/>
<line x1="500.1" y1="95.4" x2="500.1" y2="90.6" stroke="#222" stroke-width="0.8"/>
<line x1="498.7" y1="90.6" x2="501.5" y2="90.6" stroke="#222" stroke-width="0.8"/>
<rect x="497.7" y="95.4" width="4.9" height="77.2" fill="#bdbdbd" stroke="#222" stroke-width="0.8"/>
<line x1="511.8" y1="94.4" x2="511.8" y2="90.3" stroke="#222" stroke-width="0.8"/>
<line x1="510.4" y1="90.3" x2="513.2" y2="90.3" stroke="#222" stroke-width="0.8"/>
<rect x="509.4" y="94.4" width="4.9" height="78.2" fill="#bdbdbd" stroke="#222" stroke-width="0.8"/>
<polygon points="453.7,105.5 454.4,107.1 456.2,107.3 454.8,108.5 455.2,110.2 453.7,109.3 452.2,110.2 452.6,108.5 451.2,107.3 453.0,107.1" fill="#000" stroke="#000" stroke-width="0.4" stroke-linejoin="round"/>
<polygon points="464.3,90.9 465.0,92.5 466.8,92.7 465.4,93.9 465.8,95.6 464.3,94.7 462.8,95.6 463.2,93.9 461.8,92.7 463.6,92.5" fill="#000" stroke="#000" stroke-width="0.4" stroke-linejoin="round"/>
<polygon points="500.1,82.0 500.8,83.6 502.6,83.8 501.2,85.0 501.6,86.7 500.1,85.8 498.6,86.7 499.0,85.0 497.6,83.8 499.4,83.6" fill="#000" stroke="#000" stroke-width="0.4" stroke-linejoin="round"/>
<polygon points="511.9,80.0 512.6,81.6 514.4,81.8 513.0,83.0 513.4,84.7 511.9,83.8 510.4,84.7 510.8,83.0 509.4,81.8 511.2,81.6" fill="#000" stroke="#000" stroke-width="0.4" stroke-linejoin="round"/>
<line x1="377.3" y1="78.5" x2="377.3" y2="203.5" stroke="#555" stroke-width="0.8"/>
<line x1="377.3" y1="172.6" x2="518" y2="172.6" stroke="#555" stroke-width="0.8"/>
<line x1="375.5" y1="172.6" x2="377.3" y2="172.6" stroke="#555" stroke-width="0.7"/>
<text x="371.9" y="175.5" text-anchor="end" class="yt">0</text>
<line x1="375.5" y1="160.9" x2="377.3" y2="160.9" stroke="#555" stroke-width="0.7"/>
<text x="371.9" y="163.8" text-anchor="end" class="yt">10</text>
<line x1="375.5" y1="149.2" x2="377.3" y2="149.2" stroke="#555" stroke-width="0.7"/>
<text x="371.9" y="152.1" text-anchor="end" class="yt">20</text>
<line x1="375.5" y1="137.5" x2="377.3" y2="137.5" stroke="#555" stroke-width="0.7"/>
<text x="371.9" y="140.4" text-anchor="end" class="yt">30</text>
<line x1="375.5" y1="125.8" x2="377.3" y2="125.8" stroke="#555" stroke-width="0.7"/>
<text x="371.9" y="128.7" text-anchor="end" class="yt">40</text>
<line x1="375.5" y1="114.1" x2="377.3" y2="114.1" stroke="#555" stroke-width="0.7"/>
<text x="371.9" y="117.0" text-anchor="end" class="yt">50</text>
<line x1="375.5" y1="102.4" x2="377.3" y2="102.4" stroke="#555" stroke-width="0.7"/>
<text x="371.9" y="105.3" text-anchor="end" class="yt">60</text>
<line x1="375.5" y1="90.7" x2="377.3" y2="90.7" stroke="#555" stroke-width="0.7"/>
<text x="371.9" y="93.6" text-anchor="end" class="yt">70</text>
<line x1="375.5" y1="79.0" x2="377.3" y2="79.0" stroke="#555" stroke-width="0.7"/>
<text x="371.9" y="81.9" text-anchor="end" class="yt">80</text>
<line x1="389.0" y1="172.6" x2="389.0" y2="193.8" stroke="#999" stroke-width="0.6"/>
<line x1="400.7" y1="172.6" x2="400.7" y2="193.8" stroke="#999" stroke-width="0.6"/>
<line x1="412.4" y1="172.6" x2="412.4" y2="193.8" stroke="#999" stroke-width="0.6"/>
<line x1="424.1" y1="172.6" x2="424.1" y2="203.5" stroke="#999" stroke-width="0.6"/>
<line x1="435.9" y1="172.6" x2="435.9" y2="193.8" stroke="#999" stroke-width="0.6"/>
<line x1="447.6" y1="172.6" x2="447.6" y2="193.8" stroke="#999" stroke-width="0.6"/>
<line x1="459.3" y1="172.6" x2="459.3" y2="193.8" stroke="#999" stroke-width="0.6"/>
<line x1="471.0" y1="172.6" x2="471.0" y2="203.5" stroke="#999" stroke-width="0.6"/>
<line x1="482.7" y1="172.6" x2="482.7" y2="193.8" stroke="#999" stroke-width="0.6"/>
<line x1="494.4" y1="172.6" x2="494.4" y2="193.8" stroke="#999" stroke-width="0.6"/>
<line x1="506.1" y1="172.6" x2="506.1" y2="193.8" stroke="#999" stroke-width="0.6"/>
<line x1="517.8" y1="172.6" x2="517.8" y2="203.5" stroke="#999" stroke-width="0.6"/>
<text transform="translate(384.9,192.6) rotate(-90)" class="cat">lpDC</text>
<text transform="translate(396.6,192.6) rotate(-90)" class="cat">lcDC</text>
<text transform="translate(408.3,192.6) rotate(-90)" class="cat">mpDC</text>
<text transform="translate(420.0,192.6) rotate(-90)" class="cat">mcDC</text>
<text transform="translate(431.7,192.6) rotate(-90)" class="cat">lpDC</text>
<text transform="translate(443.4,192.6) rotate(-90)" class="cat">lcDC</text>
<text transform="translate(455.2,192.6) rotate(-90)" class="cat">mpDC</text>
<text transform="translate(466.9,192.6) rotate(-90)" class="cat">mcDC</text>
<text transform="translate(478.6,192.6) rotate(-90)" class="cat">lpDC</text>
<text transform="translate(490.3,192.6) rotate(-90)" class="cat">lcDC</text>
<text transform="translate(502.0,192.6) rotate(-90)" class="cat">mpDC</text>
<text transform="translate(513.7,192.6) rotate(-90)" class="cat">mcDC</text>
<text x="400.5" y="202" text-anchor="middle" class="grp">WO OVA (30 min)</text>
<text x="447.9" y="202" text-anchor="middle" class="grp">OVA (30min)</text>
<text x="494" y="202" text-anchor="middle" class="grp">OVA (2h)</text>
<text transform="translate(359,184.3) rotate(-90)" class="yl">Percentage of conjugates</text>
</svg>
</body></html>
